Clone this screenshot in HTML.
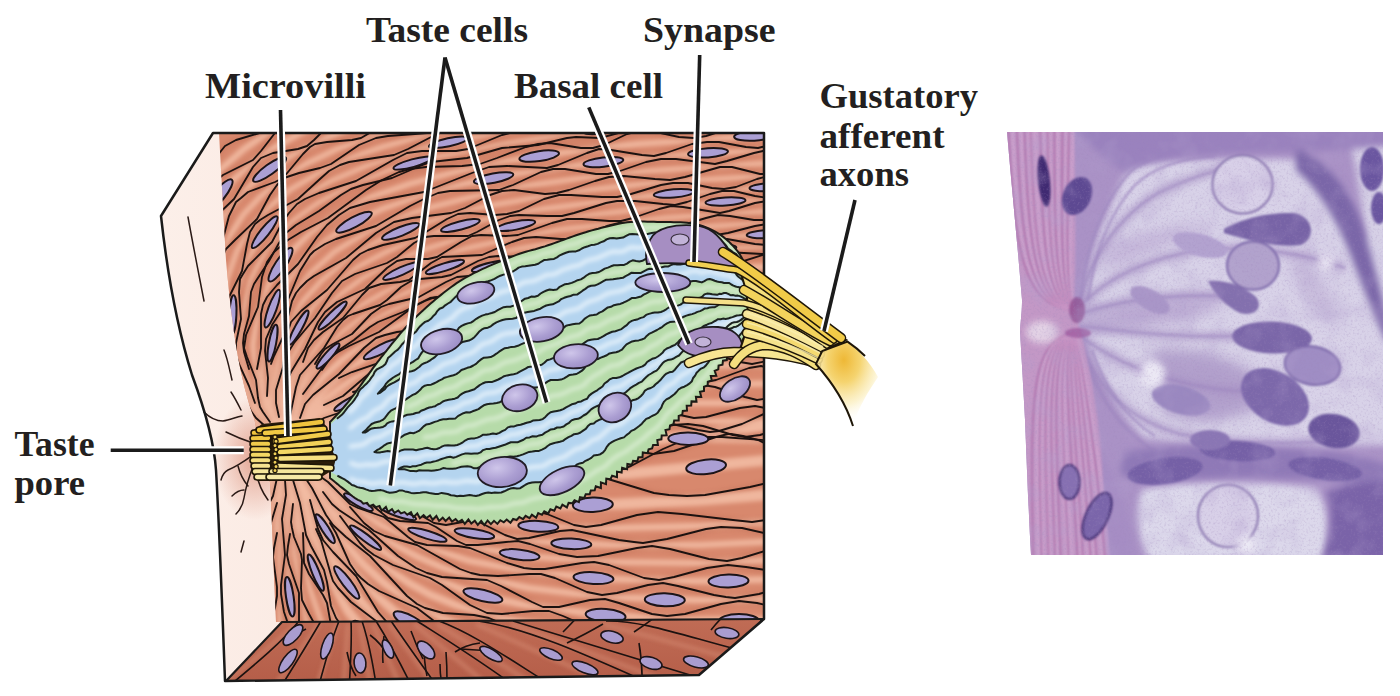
<!DOCTYPE html>
<html><head><meta charset="utf-8"><style>
html,body{margin:0;padding:0;background:#fff;overflow:hidden;}
svg{display:block;}
</style></head><body>
<svg width="1400" height="696" viewBox="0 0 1400 696">

<defs>
<linearGradient id="gleft" x1="0" y1="0" x2="1" y2="0">
 <stop offset="0" stop-color="#fcefe9"/><stop offset="0.6" stop-color="#f9e3da"/><stop offset="1" stop-color="#f0c7b8"/>
</linearGradient>
<linearGradient id="gbot" x1="0" y1="0" x2="0" y2="1">
 <stop offset="0" stop-color="#c06c55"/><stop offset="1" stop-color="#b55e49"/>
</linearGradient>
<radialGradient id="gpore" cx="0.5" cy="0.5" r="0.5">
 <stop offset="0" stop-color="#e3a593"/><stop offset="1" stop-color="#e3a593" stop-opacity="0"/>
</radialGradient>
<radialGradient id="gnuc" cx="0.4" cy="0.35" r="0.7">
 <stop offset="0" stop-color="#cfc6ea"/><stop offset="0.6" stop-color="#ab9ed2"/><stop offset="1" stop-color="#9a8cc4"/>
</radialGradient>
<radialGradient id="gcut" cx="0.45" cy="0.22" r="0.75">
 <stop offset="0" stop-color="#eeb836"/><stop offset="0.35" stop-color="#f5d470"/><stop offset="0.7" stop-color="#fbeebc" stop-opacity="0.7"/><stop offset="1" stop-color="#ffffff" stop-opacity="0"/>
</radialGradient>
<clipPath id="cfront"><path d="M219,133 L764,133 L764,619 L276,622 C274,580 272,520 270,482 L262,470 C258,440 256,425 254,418 C240,380 232,330 226,260 Z"/></clipPath>
<clipPath id="cbot"><path d="M282,622 L764,619 L699,675 L225,681 Z"/></clipPath>
<filter id="blur2" x="-20%" y="-20%" width="140%" height="140%"><feGaussianBlur stdDeviation="2"/></filter>
<filter id="blur1"><feGaussianBlur stdDeviation="1"/></filter>
<filter id="blur4" x="-30%" y="-30%" width="160%" height="160%"><feGaussianBlur stdDeviation="4"/></filter>
<clipPath id="cbud"><path d="M330.0,422.0 332.3,419.6 334.6,417.2 336.9,414.9 339.2,412.5 341.4,410.0 343.6,407.5 345.7,405.0 347.9,402.4 349.9,399.8 351.9,397.2 353.9,394.6 355.9,391.9 357.8,389.2 359.8,386.5 361.7,383.8 363.6,381.2 365.6,378.5 367.5,375.8 369.4,373.1 371.4,370.4 373.3,367.7 375.3,365.1 377.3,362.4 379.3,359.8 381.3,357.2 383.4,354.6 385.4,352.0 387.5,349.4 389.5,346.8 391.6,344.2 393.7,341.6 395.8,339.0 397.9,336.5 400.0,333.9 402.2,331.4 404.4,329.0 406.6,326.5 408.9,324.1 411.2,321.7 413.6,319.4 415.9,317.1 418.3,314.8 420.7,312.6 423.2,310.3 425.6,308.1 428.1,305.8 430.6,303.6 433.1,301.5 435.6,299.3 438.1,297.2 440.7,295.1 443.3,293.0 445.9,291.0 448.5,289.0 451.2,287.0 453.9,285.1 456.6,283.2 459.4,281.4 462.2,279.7 465.0,278.0 467.9,276.3 470.8,274.8 473.8,273.2 476.7,271.8 479.7,270.3 482.7,268.9 485.7,267.6 488.8,266.2 491.8,264.9 494.8,263.6 497.9,262.3 501.0,261.1 504.0,259.8 507.1,258.6 510.2,257.3 513.3,256.1 516.4,254.9 519.5,253.8 522.6,252.8 525.8,251.8 529.0,250.9 532.2,250.0 535.4,249.2 538.5,248.3 541.7,247.3 544.9,246.4 548.0,245.3 551.2,244.2 554.3,243.1 557.4,242.0 560.5,240.9 563.6,239.7 566.7,238.6 569.8,237.5 573.0,236.4 576.1,235.3 579.2,234.2 582.4,233.2 585.6,232.3 588.7,231.3 591.9,230.4 595.1,229.5 598.3,228.7 601.5,227.8 604.7,227.0 608.0,226.2 611.2,225.5 614.4,224.7 617.6,224.0 620.9,223.3 624.1,222.8 627.4,222.3 630.7,222.0 634.0,221.8 637.3,221.7 640.6,221.6 644.0,221.6 647.3,221.7 650.6,221.7 653.9,221.8 657.2,221.9 660.5,222.0 663.8,222.1 667.1,222.1 670.5,222.1 673.8,222.2 677.1,222.2 680.4,222.3 683.7,222.5 687.0,222.8 690.3,223.2 693.6,223.7 696.8,224.4 700.0,225.3 703.1,226.3 706.3,227.4 709.3,228.7 712.3,230.1 715.2,231.7 718.1,233.4 720.8,235.2 723.5,237.1 726.1,239.2 728.6,241.4 730.9,243.7 733.2,246.1 735.4,248.6 737.5,251.2 739.4,253.9 741.2,256.7 742.8,259.6 744.1,262.6 745.3,265.7 746.2,268.9 747.1,272.1 747.8,275.3 748.5,278.5 749.2,281.8 750.0,285.0 L750.0,322.0 748.8,325.0 747.8,328.0 746.7,331.1 745.5,334.1 744.2,337.0 742.9,340.0 741.4,342.8 739.6,345.5 737.6,348.0 735.4,350.4 733.0,352.6 731.5,355.7 727.1,355.6 726.8,360.1 723.0,360.7 722.5,364.6 718.6,365.6 718.3,369.4 714.7,370.8 716.3,375.7 710.8,376.0 711.7,380.4 707.8,381.7 707.7,385.5 704.0,386.8 704.0,391.0 700.0,391.8 701.2,397.0 695.9,396.7 696.5,401.6 691.5,401.4 691.2,405.5 686.7,405.8 687.0,410.5 682.8,410.9 682.2,414.8 678.7,415.9 678.7,420.4 674.2,420.5 673.4,424.2 670.0,425.4 669.5,429.2 665.5,430.1 666.7,435.3 661.7,435.4 661.4,439.3 657.3,440.1 657.9,444.9 653.1,444.9 652.1,448.4 648.6,449.4 647.5,453.2 642.8,452.5 642.5,457.3 638.4,457.2 637.4,461.2 633.1,460.9 631.9,464.8 627.4,464.0 627.1,469.1 622.1,467.7 621.6,472.5 617.0,471.6 617.0,477.2 612.1,475.8 610.5,479.2 606.3,478.7 606.0,484.1 600.9,482.3 600.9,488.0 595.8,486.3 594.7,490.2 590.8,490.4 589.7,494.3 585.7,494.2 584.2,498.0 580.0,497.1 578.9,502.1 574.5,500.2 572.3,503.3 568.6,502.9 566.9,507.4 562.4,504.6 560.4,508.5 556.3,506.6 554.3,510.7 550.4,509.2 548.3,513.3 544.3,511.3 542.0,514.8 538.2,513.1 536.1,517.8 531.9,514.6 529.5,518.2 525.6,515.8 523.0,519.2 519.3,517.0 516.6,520.0 513.1,518.9 510.5,522.8 506.7,519.6 503.8,522.3 500.3,520.2 497.4,523.9 494.0,520.8 490.9,524.1 487.6,520.5 484.3,525.1 481.2,520.8 477.8,524.9 474.8,520.8 471.3,523.6 468.4,519.5 464.8,523.9 461.9,519.8 458.4,522.1 455.6,519.0 452.0,521.5 449.2,517.6 445.6,521.0 442.7,517.7 439.1,520.9 436.4,516.0 432.7,519.8 430.0,515.5 426.4,518.0 423.6,515.2 419.9,518.2 417.3,513.4 413.4,517.2 411.0,512.2 407.3,514.7 404.5,512.1 401.0,513.4 398.3,510.5 394.5,512.8 392.0,509.2 388.0,511.9 385.9,507.0 381.7,510.7 379.5,505.9 375.9,507.2 373.2,504.6 369.4,506.1 367.1,502.8 363.3,503.7 360.8,501.1 357.9,499.8 355.1,498.1 352.5,496.3 350.0,494.2 347.6,492.1 345.1,490.1 342.5,488.1 340.0,486.2 337.5,484.1 335.0,482.1 332.5,480.0 330.0,478.0 Z"/></clipPath><clipPath id="cmic"><path d="M1007,132 L1383,132 L1383,555 L1031,555 C1029,520 1027,470 1025,420 C1023,380 1021,350 1020,330 C1021,318 1022,310 1022,300 C1018,250 1012,190 1007,132 Z"/></clipPath><filter id="mb8" x="-50%" y="-50%" width="200%" height="200%"><feGaussianBlur stdDeviation="7"/></filter><filter id="mb4" x="-50%" y="-50%" width="200%" height="200%"><feGaussianBlur stdDeviation="3.5"/></filter><filter id="mb2" x="-50%" y="-50%" width="200%" height="200%"><feGaussianBlur stdDeviation="1.3"/></filter><filter id="grain" x="0" y="0" width="100%" height="100%"><feTurbulence type="fractalNoise" baseFrequency="0.45" numOctaves="2" seed="3"/><feColorMatrix type="matrix" values="0 0 0 0 0.35  0 0 0 0 0.25  0 0 0 0 0.5  0 0 0 -1.8 0.9"/></filter><filter id="mottle" x="0" y="0" width="100%" height="100%"><feTurbulence type="fractalNoise" baseFrequency="0.04" numOctaves="3" seed="8"/><feColorMatrix type="matrix" values="0 0 0 0 0.45  0 0 0 0 0.35  0 0 0 0 0.62  0 0 0 -2.2 1.2"/></filter></defs>

<path d="M213,133 L764,133 L764,619 L699,675 L225,681 C222,600 219,520 216,470 C214,440 205,410 192,375 C178,330 168,280 161,216 Z" fill="url(#gleft)"/>
<ellipse cx="255" cy="458" rx="42" ry="62" fill="url(#gpore)"/>
<path d="M219,133 L764,133 L764,619 L276,622 C274,580 272,520 270,482 L262,470 C258,440 256,425 254,418 C240,380 232,330 226,260 Z" fill="#d8886d"/>
<g clip-path="url(#cfront)">
<g filter="url(#blur2)"><path d="M274,446 199,435 148,424" stroke="#f2bba3" stroke-width="4.2" fill="none" opacity="0.9"/><path d="M274,445 240,436 204,424 167,408 146,397" stroke="#f2bba3" stroke-width="4.5" fill="none" opacity="0.9"/><path d="M275,443 239,429 206,411 177,392 152,369" stroke="#f2bba3" stroke-width="4.7" fill="none" opacity="0.9"/><path d="M275,442 252,429 228,414 195,385 172,356 162,339 155,321" stroke="#f2bba3" stroke-width="5.7" fill="none" opacity="0.9"/><path d="M276,441 251,424 230,407 213,388 197,367 184,341 177,322 172,297 171,271 174,249 180,229 189,209 204,188 221,169 244,149 267,133 295,118" stroke="#f2bba3" stroke-width="6.5" fill="none" opacity="0.9"/><path d="M276,440 252,422 233,403 217,383 204,360 193,334 188,310 186,285 189,260 195,238 205,216 217,198 234,179 256,160 279,145 306,130 337,117" stroke="#f2bba3" stroke-width="6.2" fill="none" opacity="0.9"/><path d="M277,440 254,420 236,400 221,376 210,351 203,327 200,300 201,275 207,250 216,229 229,209 246,190 267,171 290,156 318,142 348,129 384,118" stroke="#f2bba3" stroke-width="5.8" fill="none" opacity="0.9"/><path d="M277,439 256,418 238,394 225,369 217,343 212,315 213,288 219,260 229,237 243,215 260,197 281,179 308,163 337,149 370,137 407,126 448,117" stroke="#f2bba3" stroke-width="5.4" fill="none" opacity="0.9"/><path d="M278,439 258,416 242,391 231,365 224,335 223,307 227,279 237,251 252,226 269,207 291,189 317,174 348,159 382,147 422,136 469,126 524,116" stroke="#f2bba3" stroke-width="5.1" fill="none" opacity="0.9"/><path d="M278,438 258,412 243,382 235,352 233,322 236,294 245,264 261,237 281,215 306,195 333,180 366,166 403,154 448,142 501,132 561,123 626,116" stroke="#f2bba3" stroke-width="4.7" fill="none" opacity="0.9"/><path d="M279,437 259,408 246,375 241,343 243,312 251,280 258,265 267,249 290,223 318,203 349,186 387,171 433,158 486,147 548,137 618,128 696,121 786,116" stroke="#f2bba3" stroke-width="4.5" fill="none" opacity="0.9"/><path d="M280,437 264,408 256,377 253,345 258,313 269,284 286,257 310,233 338,213 369,198 409,184 455,172 507,161 569,152 637,144 801,133" stroke="#f2bba3" stroke-width="5.8" fill="none" opacity="0.9"/><path d="M281,436 269,409 262,378 263,348 269,317 282,289 301,263 323,243 351,224 382,209 419,196 464,184 514,174 574,166 639,158 799,148" stroke="#f2bba3" stroke-width="5.5" fill="none" opacity="0.9"/><path d="M282,435 272,407 269,379 271,349 279,322 294,294 311,273 334,252 363,234 396,219 432,207 475,196 525,186 582,178 647,171 799,161" stroke="#f2bba3" stroke-width="5.2" fill="none" opacity="0.9"/><path d="M283,435 276,409 275,381 279,354 288,327 303,301 322,280 346,260 375,243 406,229 443,217 487,206 534,198 589,190 652,183 798,174" stroke="#f2bba3" stroke-width="4.9" fill="none" opacity="0.9"/><path d="M284,435 279,408 280,380 287,353 299,328 314,305 334,285 358,267 386,252 416,239 453,227 495,217 543,209 656,195 798,186" stroke="#f2bba3" stroke-width="4.8" fill="none" opacity="0.9"/><path d="M285,434 283,408 286,382 292,359 305,335 322,312 341,294 364,277 394,262 426,249 460,238 501,228 548,220 660,207 797,198" stroke="#f2bba3" stroke-width="4.7" fill="none" opacity="0.9"/><path d="M286,434 286,407 291,382 300,360 312,339 328,320 348,302 372,286 402,271 432,259 468,248 509,239 556,230 664,218 800,209" stroke="#f2bba3" stroke-width="4.7" fill="none" opacity="0.9"/><path d="M287,434 289,410 295,387 305,364 319,344 336,325 357,308 383,293 411,279 442,268 477,258 518,249 564,241 668,229 800,221" stroke="#f2bba3" stroke-width="4.6" fill="none" opacity="0.9"/><path d="M288,434 291,413 299,390 310,368 325,349 342,332 365,315 388,301 415,289 448,278 483,268 565,253 671,241 800,232" stroke="#f2bba3" stroke-width="4.5" fill="none" opacity="0.9"/><path d="M289,434 294,414 303,391 315,372 330,354 348,338 369,323 395,309 423,297 456,287 491,278 573,263 675,252 799,244" stroke="#f2bba3" stroke-width="4.4" fill="none" opacity="0.9"/><path d="M291,434 299,415 310,395 324,376 341,361 360,347 381,334 404,323 432,313 497,296 580,282 680,272 800,265" stroke="#f2bba3" stroke-width="7.1" fill="none" opacity="0.9"/><path d="M293,435 303,417 314,401 329,385 347,370 366,358 387,347 412,336 439,327 503,312 585,300 683,291 800,285" stroke="#f2bba3" stroke-width="6.9" fill="none" opacity="0.9"/><path d="M295,436 307,419 320,404 336,391 353,379 395,358 446,341 509,328 589,318 685,310 800,305" stroke="#f2bba3" stroke-width="6.8" fill="none" opacity="0.9"/><path d="M296,437 308,423 324,409 358,387 401,369 453,355 515,344 594,335 686,329 800,325" stroke="#f2bba3" stroke-width="6.7" fill="none" opacity="0.9"/><path d="M298,438 328,414 364,395 407,380 458,369 520,359 598,352 690,347 800,344" stroke="#f2bba3" stroke-width="6.6" fill="none" opacity="0.9"/><path d="M299,439 329,420 367,404 410,392 460,383 521,375 599,369 692,366 800,364" stroke="#f2bba3" stroke-width="6.5" fill="none" opacity="0.9"/><path d="M300,441 332,426 371,413 415,403 465,396 531,390 610,386 799,383" stroke="#f2bba3" stroke-width="6.4" fill="none" opacity="0.9"/><path d="M301,443 335,431 373,422 416,415 466,410 604,403 799,403" stroke="#f2bba3" stroke-width="6.4" fill="none" opacity="0.9"/><path d="M301,444 337,437 375,431 469,423 604,420 799,422" stroke="#f2bba3" stroke-width="6.3" fill="none" opacity="0.9"/><path d="M302,446 376,440 469,437 604,437 798,441" stroke="#f2bba3" stroke-width="6.3" fill="none" opacity="0.9"/><path d="M302,448 500,443 797,428" stroke="#f2bba3" stroke-width="2.9" fill="none" opacity="0.9"/><path d="M302,450 352,454 397,457 492,455 623,444 800,422" stroke="#f2bba3" stroke-width="10.7" fill="none" opacity="0.9"/><path d="M301,452 351,464 395,472 438,477 489,478 549,478 622,474 800,457" stroke="#f2bba3" stroke-width="10.8" fill="none" opacity="0.9"/><path d="M301,454 348,473 390,487 433,496 485,502 545,505 618,504 702,500 799,492" stroke="#f2bba3" stroke-width="11.1" fill="none" opacity="0.9"/><path d="M300,455 347,482 388,499 433,512 483,521 544,527 616,528 700,526 799,520" stroke="#f2bba3" stroke-width="6.4" fill="none" opacity="0.9"/><path d="M299,456 344,486 387,508 431,524 480,535 541,542 616,545 700,545 799,540" stroke="#f2bba3" stroke-width="6.0" fill="none" opacity="0.9"/><path d="M299,457 343,492 384,517 427,535 477,548 537,557 612,562 698,563 798,559" stroke="#f2bba3" stroke-width="6.2" fill="none" opacity="0.9"/><path d="M298,458 340,496 379,524 420,545 470,561 532,572 609,579 695,581 797,579" stroke="#f2bba3" stroke-width="6.4" fill="none" opacity="0.9"/><path d="M297,459 338,503 358,520 377,535 397,546 418,557 444,568 467,575 529,588 605,597 695,600 798,599" stroke="#f2bba3" stroke-width="6.7" fill="none" opacity="0.9"/><path d="M296,459 318,488 337,511 357,530 376,546 396,560 417,571 463,590 496,599 525,605 603,615 694,620 799,620" stroke="#f2bba3" stroke-width="7.1" fill="none" opacity="0.9"/><path d="M295,460 315,490 332,515 350,535 368,553 389,570 409,583 431,595 456,605 486,614 519,622 597,635 690,641 799,643" stroke="#f2bba3" stroke-width="7.5" fill="none" opacity="0.9"/><path d="M294,461 311,492 328,520 344,542 363,564 383,582 403,597 424,609 450,621 481,632 514,641 552,649 592,655 688,664 800,666" stroke="#f2bba3" stroke-width="8.1" fill="none" opacity="0.9"/><path d="M293,461 309,497 324,526 339,552 356,574 375,594 394,611 420,628 442,639 471,651 505,661 545,670 586,677 635,683 686,688 800,691" stroke="#f2bba3" stroke-width="8.9" fill="none" opacity="0.9"/><path d="M292,461 305,498 317,529 330,556 345,580 361,602 378,620 397,636 418,650 443,664 472,675 503,685 540,694 623,708 705,712" stroke="#f2bba3" stroke-width="10.0" fill="none" opacity="0.9"/><path d="M291,462 307,520 326,570 348,611 375,644 389,658 407,671 429,685 448,694 491,710 543,720" stroke="#f2bba3" stroke-width="9.4" fill="none" opacity="0.9"/><path d="M290,462 299,512 311,558 325,598 343,634 363,662 387,687 416,708 442,720" stroke="#f2bba3" stroke-width="6.1" fill="none" opacity="0.9"/><path d="M289,462 294,507 301,551 310,589 322,624 335,655 351,682 370,706 386,720" stroke="#f2bba3" stroke-width="4.9" fill="none" opacity="0.9"/><path d="M288,462 293,543 298,578 305,614 313,647 323,675 338,706 347,719" stroke="#f2bba3" stroke-width="4.5" fill="none" opacity="0.9"/><path d="M287,462 286,534 290,603 295,638 302,675 315,718" stroke="#f2bba3" stroke-width="4.3" fill="none" opacity="0.9"/><path d="M286,462 280,528 279,596 281,659 288,719" stroke="#f2bba3" stroke-width="4.2" fill="none" opacity="0.9"/><path d="M285,462 276,521 269,586 265,652 264,718" stroke="#f2bba3" stroke-width="4.2" fill="none" opacity="0.9"/><path d="M284,462 271,517 260,579 249,647 240,718" stroke="#f2bba3" stroke-width="4.2" fill="none" opacity="0.9"/><path d="M284,461 253,568 218,717" stroke="#f2bba3" stroke-width="4.2" fill="none" opacity="0.9"/><path d="M283,461 246,559 195,716" stroke="#f2bba3" stroke-width="4.3" fill="none" opacity="0.9"/><path d="M282,461 241,551 172,714" stroke="#f2bba3" stroke-width="4.3" fill="none" opacity="0.9"/><path d="M281,460 237,542 150,711" stroke="#f2bba3" stroke-width="4.4" fill="none" opacity="0.9"/><path d="M280,460 229,541 141,685" stroke="#f2bba3" stroke-width="4.3" fill="none" opacity="0.9"/><path d="M279,459 215,542 141,642" stroke="#f2bba3" stroke-width="5.6" fill="none" opacity="0.9"/><path d="M278,458 141,605" stroke="#f2bba3" stroke-width="4.9" fill="none" opacity="0.9"/><path d="M277,457 142,575" stroke="#f2bba3" stroke-width="4.4" fill="none" opacity="0.9"/><path d="M276,456 141,552" stroke="#f2bba3" stroke-width="4.0" fill="none" opacity="0.9"/><path d="M276,455 140,531" stroke="#f2bba3" stroke-width="3.8" fill="none" opacity="0.9"/><path d="M275,454 141,512" stroke="#f2bba3" stroke-width="3.5" fill="none" opacity="0.9"/><path d="M275,452 141,495" stroke="#f2bba3" stroke-width="3.4" fill="none" opacity="0.9"/><path d="M274,451 141,479" stroke="#f2bba3" stroke-width="3.3" fill="none" opacity="0.9"/><path d="M274,450 142,464" stroke="#f2bba3" stroke-width="3.2" fill="none" opacity="0.9"/></g>
<g filter="url(#blur2)" fill="none" stroke="#b8664d" stroke-width="4.5" opacity="0.35"><path d="M256,446 232,445 179,434 161,434 142,436"/><path d="M203,432 182,430 170,426 154,417 140,405"/><path d="M234,433 218,425 187,400 139,380"/><path d="M211,409 189,398 175,382 162,357 150,321"/><path d="M260,432 240,419 222,399 197,377 189,368 182,351 174,316 159,276 156,254 159,242 165,230 195,196 212,163 221,151 225,146 236,140 271,129 291,108"/><path d="M220,395 214,385 204,363 182,330 176,312 175,300 177,287 190,247 195,218 199,203 205,192 211,185 223,175 253,160 281,127 293,123 325,121 336,115"/><path d="M244,413 231,393 209,368 203,354 201,342 200,309 193,267 194,252 198,240 210,222 234,199 253,167 261,158 273,153 298,149 307,146 330,124 340,118 384,115"/><path d="M228,386 220,357 205,324 203,306 207,282 219,254 229,216 236,202 248,192 283,178 303,154 315,144 361,138 390,121 404,115 420,114 447,114"/><path d="M265,426 251,411 240,389 227,368 222,357 220,342 221,312 219,273 221,261 226,249 235,240 257,219 277,185 284,178 290,176 331,164 359,145 376,138 427,133 475,112 487,112 524,115"/><path d="M238,379 234,355 226,326 224,314 228,299 242,271 247,244 250,232 255,224 260,220 298,199 329,171 340,165 349,162 394,155 435,135 446,131 499,132 542,116 590,118 625,107"/><path d="M255,403 236,355 236,343 241,319 239,292 240,279 248,266 272,242 289,213 297,204 305,199 319,193 356,181 407,153 422,151 468,149 514,132 562,133 603,120 649,124 693,111 744,117 786,108"/><path d="M249,369 243,343 249,316 251,292 254,284 286,233 296,225 319,211 351,189 363,185 392,178 431,162 467,158 502,148 538,145 567,138 600,138 630,130 663,132 696,125 726,127 761,121 801,122"/><path d="M270,422 260,407 256,380 247,357 244,348 246,335 258,307 262,277 267,262 274,252 288,240 328,218 382,180 399,172 410,169 480,164 538,144 550,143 581,148 593,148 627,134 639,131 651,131 679,137 694,138 738,126 753,124 768,125 801,131"/><path d="M257,369 261,348 261,314 263,305 267,297 277,285 298,264 327,225 339,215 350,208 370,202 424,192 489,167 507,166 547,168 558,165 587,153 599,149 611,150 642,155 654,156 692,144 707,142 758,148 770,145 800,135"/><path d="M267,396 268,378 265,351 266,339 272,325 287,302 300,271 310,255 325,244 376,226 424,199 438,193 450,191 499,190 513,185 541,172 553,169 608,174 661,159 676,159 715,164 727,161 763,151 775,152 799,159"/><path d="M271,364 283,337 292,301 300,288 314,276 346,258 376,233 394,222 412,218 451,213 502,191 514,190 557,193 609,177 624,176 670,180 720,167 732,167 760,174 769,174 798,164"/><path d="M279,417 276,403 276,390 283,367 287,334 291,322 301,311 327,290 353,260 368,250 383,245 415,238 458,214 470,213 507,214 544,199 559,195 617,197 673,183 688,183 724,189 768,176 799,183"/><path d="M285,363 287,354 294,343 315,318 332,293 342,281 355,274 387,263 414,243 425,237 468,236 499,220 510,216 562,216 617,201 635,201 675,205 722,191 734,191 768,198 797,190"/><path d="M285,392 286,383 291,372 305,349 318,322 325,312 337,302 365,289 387,268 397,261 437,257 461,242 472,236 518,235 567,219 621,221 671,206 683,207 720,213 767,201 801,206"/><path d="M303,362 308,348 314,340 323,332 343,318 362,295 369,288 381,284 409,280 431,263 442,257 482,255 524,238 573,239 619,223 631,223 671,228 718,215 766,220 799,213"/><path d="M290,416 296,387 300,375 308,366 324,348 343,320 353,314 380,305 401,287 411,281 451,275 489,257 535,256 566,243 578,240 624,245 668,231 716,235 767,224 800,229"/><path d="M315,364 321,354 325,349 352,334 371,314 381,307 419,297 446,282 457,277 499,275 539,257 585,261 614,249 625,246 668,250 715,239 767,245 799,237"/><path d="M303,394 328,360 336,352 354,340 378,322 403,312 433,298 460,293 488,282 518,280 547,270 577,270 604,263 634,263 663,257 696,258 726,252 762,254 798,248"/><path d="M322,370 331,357 338,352 379,332 416,305 430,298 445,296 479,297 491,296 530,276 545,271 597,277 611,273 640,260 652,257 667,259 698,267 713,269 769,253 799,248"/><path d="M300,418 305,404 313,395 339,374 364,348 376,338 397,332 439,327 453,320 483,303 497,298 512,297 555,301 570,296 607,281 623,282 650,290 666,292 680,287 709,275 730,270 800,279"/><path d="M339,378 352,372 387,360 425,336 442,328 460,326 509,325 564,305 579,305 610,312 622,314 636,310 666,296 680,293 695,294 735,301 756,303 777,301 801,296"/><path d="M324,405 343,396 371,372 386,362 404,358 452,353 512,330 530,329 576,336 591,332 623,318 638,314 689,323 707,325 728,321 779,308 788,307 800,309"/><path d="M353,392 397,381 439,362 456,357 477,355 520,358 535,355 566,342 584,337 599,337 642,345 660,346 737,329 755,331 801,344"/><path d="M312,427 324,418 356,407 388,390 402,384 420,381 462,381 477,377 508,364 523,360 538,360 578,366 602,367 670,352 688,350 706,352 752,364 767,361 799,347"/><path d="M364,407 379,404 412,402 452,386 464,383 479,383 515,388 534,388 593,375 620,371 647,373 689,382 701,383 716,380 749,368 761,366 773,369 800,378"/><path d="M339,425 372,421 415,404 470,408 517,396 541,392 574,394 631,402 652,399 688,388 703,385 715,387 745,397 757,400 769,398 799,388"/><path d="M371,423 383,421 422,425 460,414 478,411 545,418 560,419 578,416 616,406 634,404 649,406 680,415 694,418 706,417 740,408 755,406 770,409 799,419"/><path d="M320,444 346,435 382,438 427,428 442,428 478,434 493,434 556,421 574,424 610,434 625,436 640,434 673,425 688,424 703,426 745,437 760,435 799,423"/><path d="M374,442 407,445 440,442 467,444 518,443 551,448 593,441 608,443 638,451 653,454 674,451 716,437 731,434 743,436 758,440 800,460"/><path d="M344,449 359,446 368,446 407,455 419,455 434,451 466,438 481,434 496,436 533,446 552,447 569,442 615,421 630,418 651,419 698,430 719,431 742,424 799,398"/><path d="M372,466 418,457 433,461 463,473 478,476 490,474 525,460 540,456 555,458 595,470 610,472 631,466 677,443 700,437 722,437 801,443"/><path d="M318,460 335,466 368,468 413,491 428,490 459,483 471,482 486,486 515,498 527,501 543,498 578,481 593,476 608,479 654,493 687,496 705,495 750,487 800,474"/><path d="M365,485 380,488 413,505 425,507 452,506 490,521 502,520 536,511 547,514 574,525 586,527 601,525 637,515 658,512 682,514 752,522 772,519 799,510"/><path d="M336,477 366,497 377,501 401,506 434,523 446,525 477,521 505,535 517,539 529,538 560,531 572,530 619,540 643,543 667,539 721,527 742,528 782,537 800,538"/><path d="M359,496 388,518 400,521 428,523 466,545 478,545 518,541 577,557 598,556 652,546 670,549 709,559 727,561 778,547 799,543"/><path d="M311,470 328,482 350,504 384,517 415,542 427,545 470,548 507,563 524,568 545,569 594,562 609,565 644,578 659,580 674,577 707,568 728,565 798,575"/><path d="M350,507 364,523 374,531 417,545 460,569 480,575 498,576 541,574 555,578 587,592 602,595 617,593 648,585 663,583 714,595 735,598 759,594 797,583"/><path d="M323,492 332,504 339,510 369,530 398,556 416,568 427,573 442,577 487,580 501,586 532,602 543,607 559,607 590,600 605,599 619,603 652,614 667,616 685,614 721,604 739,601 757,603 799,613"/><path d="M340,516 360,543 374,555 393,565 430,578 470,605 487,613 502,614 549,611 563,616 595,630 606,633 622,631 655,622 670,620 685,623 724,637 745,641 763,639 799,629"/><path d="M304,476 326,515 333,525 346,537 370,556 407,596 425,608 443,613 489,618 530,639 544,645 563,645 606,636 621,640 655,656 673,661 688,659 731,649 752,646 773,649 800,658"/><path d="M330,523 350,564 361,578 379,591 417,608 459,640 475,649 493,651 531,647 543,648 557,654 590,673 608,678 623,677 663,668 681,667 699,671 732,684 747,688 765,685 801,669"/><path d="M310,500 318,529 323,540 356,576 378,612 392,628 403,635 417,641 466,649 478,656 512,682 528,690 547,691 600,684 609,684 620,687 638,693 652,701 692,738 701,741 710,741 723,737 738,726 782,678 800,661"/><path d="M316,529 321,540 331,575 338,588 351,602 380,624 413,668 430,683 444,689 466,692 504,692 545,686 568,689 579,692 590,699 601,709 611,723"/><path d="M293,480 300,503 306,535 324,570 331,606 336,618 351,634 389,659 420,695 468,740"/><path d="M303,533 304,563 309,574 327,603 334,642 342,663 356,679 376,694 395,704 416,710"/><path d="M293,504 292,528 302,560 301,588 302,600 309,614 331,653 356,726"/><path d="M290,534 287,555 299,593 299,639 301,654 306,668 313,682 339,713"/><path d="M285,480 286,495 282,519 285,555 281,594 284,612 295,644 295,653 295,668 289,703 290,721"/><path d="M277,533 273,557 277,596 267,632 266,644 268,659 282,698 284,707 283,719"/><path d="M277,503 271,523 271,557 258,591 258,603 264,640 247,693 246,705 248,720"/><path d="M267,531 257,554 256,593 238,636 237,651 240,694 232,720"/><path d="M277,478 273,496 259,523 255,556 237,591 232,640 226,654 204,691 200,718"/><path d="M256,528 241,554 231,598 205,637 202,652 199,698 196,707 189,721"/><path d="M263,498 247,524 235,561 211,593 207,604 203,632 199,647 191,660 164,693 153,715"/><path d="M246,523 220,556 209,592 204,603 166,647 161,661 155,682 151,710"/><path d="M269,474 151,651 142,667"/><path d="M239,518 225,546 187,585 179,597 169,620 161,658 154,671"/><path d="M252,491 241,505 214,529 206,538 176,591 159,604 133,614"/><path d="M225,507 209,529 203,535 158,562 151,572 143,590"/><path d="M262,467 236,491 198,512 190,521 168,551 157,557 142,562"/><path d="M216,496 210,502 202,506 164,519 155,527 140,543"/><path d="M239,475 209,483 173,510 140,519"/><path d="M208,480 175,486 162,493 142,508"/><path d="M257,457 246,460 219,464 180,481 165,483 140,483"/><path d="M203,461 179,461 141,475"/><path d="M232,451 142,457"/></g>
<g fill="none" stroke="#1c1210" stroke-width="1.85" stroke-linejoin="round" stroke-linecap="round">
<path d="M256,446 241,446 232,445 191,435 179,434 161,434 142,436"/>
<path d="M203,432 182,430 170,426 154,417 140,405"/>
<path d="M234,433 218,425 187,400 174,393 139,380"/>
<path d="M211,409 200,404 189,398 183,391 175,382 169,371 162,357 150,321"/>
<path d="M260,432 247,425 240,419 222,399 197,377 189,368 182,351 174,316 159,276 156,264 156,254 159,242 165,230 173,220 195,196 212,163 221,151 225,146 236,140 263,132 271,129 278,123 291,108"/>
<path d="M220,395 214,385 204,363 182,330 177,318 176,312 175,300 177,287 190,247 195,218 199,203 205,192 211,185 223,175 253,160 261,151 275,133 281,127 287,124 293,123 316,122 325,121 328,120 336,115"/>
<path d="M244,413 231,393 209,368 206,363 203,354 201,342 200,309 194,282 193,267 194,252 198,240 202,232 210,222 234,199 253,167 261,158 273,153 298,149 307,146 314,140 330,124 340,118 349,116 372,116 384,115"/>
<path d="M228,386 220,357 205,324 203,315 203,306 204,294 207,282 219,254 229,216 236,202 241,198 248,192 275,182 283,178 303,154 310,147 315,144 327,142 352,140 361,138 390,121 404,115 420,114 447,114"/>
<path d="M265,426 256,418 251,411 240,389 227,368 222,357 220,342 221,312 219,273 221,261 226,249 235,240 257,219 270,195 277,185 284,178 290,176 299,173 320,168 331,164 359,145 376,138 388,136 415,134 427,133 441,128 464,116 475,112 487,112 512,115 524,115"/>
<path d="M238,379 234,355 226,326 224,314 228,299 242,271 247,244 250,232 255,224 260,220 268,215 298,199 320,179 329,171 340,165 349,162 394,155 408,149 435,135 446,131 459,130 487,133 499,132 510,128 530,119 542,116 554,115 578,118 590,118 602,115 625,107"/>
<path d="M255,403 249,386 239,364 236,355 236,343 241,319 239,292 240,279 243,274 248,266 272,242 282,223 289,213 297,204 305,199 319,193 356,181 393,160 407,153 422,151 456,151 468,149 502,135 514,132 523,131 550,133 562,133 603,120 615,120 640,124 649,124 660,121 681,113 693,111 705,112 732,116 744,117 756,115 786,108"/>
<path d="M249,369 244,352 243,343 244,334 249,316 251,292 254,284 269,261 279,243 286,233 296,225 319,211 341,195 351,189 363,185 392,178 420,166 431,162 467,158 502,148 538,145 567,138 576,137 600,138 630,130 663,132 687,126 696,125 726,127 761,121 801,122"/>
<path d="M270,422 263,412 260,407 258,398 256,380 247,357 244,348 246,335 258,307 262,277 267,262 274,252 288,240 301,232 328,218 366,190 382,180 399,172 410,169 426,167 462,166 480,164 497,158 526,147 538,144 550,143 581,148 593,148 604,145 627,134 639,131 651,131 679,137 694,138 706,136 738,126 753,124 768,125 801,131"/>
<path d="M257,369 261,348 261,314 263,305 267,297 277,285 298,264 317,237 327,225 339,215 350,208 370,202 424,192 472,173 489,167 507,166 547,168 558,165 587,153 599,149 611,150 642,155 654,156 666,153 692,144 707,142 719,142 746,147 758,148 770,145 800,135"/>
<path d="M267,396 268,378 265,351 266,339 272,325 287,302 300,271 310,255 314,251 325,244 336,239 376,226 410,206 424,199 438,193 450,191 499,190 513,185 541,172 553,169 565,169 596,174 608,174 620,171 646,162 661,159 676,159 715,164 727,161 754,153 763,151 775,152 799,159"/>
<path d="M271,364 274,356 283,337 292,301 296,293 300,288 307,281 314,276 346,258 376,233 394,222 412,218 451,213 465,208 490,195 502,191 514,190 545,194 557,193 569,190 595,181 609,177 624,176 655,179 670,180 685,177 720,167 732,167 760,174 769,174 777,172 798,164"/>
<path d="M279,417 276,403 276,390 283,367 287,334 291,322 301,311 327,290 353,260 360,254 368,250 383,245 415,238 426,232 447,219 458,214 470,213 495,215 507,214 519,211 544,199 559,195 571,195 602,197 617,197 631,194 661,185 673,183 688,183 712,188 724,189 736,187 757,179 768,176 777,177 799,183"/>
<path d="M285,363 287,354 294,343 315,318 332,293 342,281 355,274 387,263 397,257 414,243 425,237 434,236 459,236 468,236 477,232 499,220 510,216 519,215 547,216 562,216 574,213 606,203 617,201 635,201 663,204 675,205 687,202 710,194 722,191 734,191 755,196 768,198 776,196 797,190"/>
<path d="M285,392 286,383 291,372 305,349 318,322 325,312 337,302 365,289 387,268 397,261 406,259 428,259 437,257 461,242 472,236 481,235 506,236 518,235 552,223 567,219 582,219 609,221 621,221 633,218 659,209 671,206 683,207 708,211 720,213 729,211 755,203 767,201 779,202 801,206"/>
<path d="M303,362 308,348 314,340 323,332 343,318 362,295 369,288 381,284 400,282 409,280 431,263 442,257 482,255 512,242 524,238 536,237 561,239 573,239 584,235 607,226 619,223 631,223 659,228 671,228 683,225 706,218 718,215 730,216 754,220 766,220 778,218 799,213"/>
<path d="M290,416 296,387 300,375 308,366 324,348 337,327 343,320 348,316 353,314 380,305 387,300 401,287 411,281 420,279 442,277 451,275 478,261 489,257 498,256 526,257 535,256 546,252 566,243 578,240 590,240 615,244 624,245 636,241 656,233 668,231 677,231 704,235 716,235 728,233 755,226 767,224 779,225 800,229"/>
<path d="M315,364 321,354 325,349 333,344 352,334 371,314 381,307 389,304 419,297 446,282 457,277 469,276 490,276 499,275 511,270 530,260 539,257 548,257 573,261 585,261 614,249 625,246 668,250 680,248 703,241 715,239 727,239 755,244 767,245 779,243 799,237"/>
<path d="M303,394 328,360 336,352 354,340 370,327 378,322 403,312 425,301 433,298 460,293 488,282 497,281 518,280 547,270 577,270 604,263 634,263 663,257 696,258 726,252 762,254 798,248"/>
<path d="M322,370 331,357 338,352 349,346 379,332 416,305 430,298 445,296 479,297 491,296 502,291 530,276 545,271 557,272 585,276 597,277 611,273 640,260 652,257 667,259 698,267 713,269 728,266 769,253 784,250 799,248"/>
<path d="M300,418 305,404 313,395 339,374 364,348 376,338 385,335 397,332 439,327 453,320 483,303 497,298 512,297 540,300 555,301 570,296 596,285 607,281 623,282 650,290 666,292 680,287 709,275 718,272 730,270 745,271 800,279"/>
<path d="M339,378 352,372 387,360 425,336 442,328 460,326 494,326 509,325 523,321 552,309 564,305 579,305 610,312 622,314 636,310 666,296 680,293 695,294 735,301 756,303 777,301 801,296"/>
<path d="M324,405 343,396 371,372 386,362 404,358 452,353 469,347 500,334 512,330 530,329 564,335 576,336 591,332 623,318 638,314 653,316 689,323 707,325 728,321 779,308 788,307 800,309"/>
<path d="M353,392 397,381 439,362 456,357 477,355 520,358 535,355 566,342 584,337 599,337 642,345 660,346 678,343 722,331 737,329 755,331 789,341 801,344"/>
<path d="M312,427 319,421 324,418 356,407 388,390 402,384 420,381 462,381 477,377 508,364 523,360 538,360 578,366 602,367 623,363 670,352 688,350 706,352 740,362 752,364 767,361 799,347"/>
<path d="M364,407 379,404 412,402 423,399 452,386 464,383 479,383 515,388 534,388 593,375 620,371 647,373 689,382 701,383 716,380 749,368 761,366 773,369 800,378"/>
<path d="M339,425 372,421 383,417 403,407 415,404 427,404 455,408 470,408 517,396 541,392 556,392 574,394 631,402 652,399 688,388 703,385 715,387 745,397 757,400 769,398 799,388"/>
<path d="M371,423 376,421 383,421 410,425 422,425 460,414 478,411 499,413 545,418 560,419 578,416 616,406 634,404 649,406 680,415 694,418 706,417 740,408 755,406 770,409 799,419"/>
<path d="M320,444 346,435 355,435 382,438 391,437 415,430 427,428 442,428 478,434 493,434 508,432 541,424 556,421 574,424 610,434 625,436 640,434 673,425 688,424 703,426 733,435 745,437 760,435 787,426 799,423"/>
<path d="M374,442 407,445 440,442 467,444 497,444 518,443 551,448 560,447 581,442 593,441 608,443 638,451 653,454 674,451 716,437 728,434 731,434 743,436 758,440 800,460"/>
<path d="M344,449 359,446 368,446 380,448 407,455 413,456 419,455 434,451 466,438 481,434 496,436 533,446 552,447 569,442 615,421 624,419 630,418 651,419 698,430 710,432 719,431 742,424 779,407 799,398"/>
<path d="M372,466 385,465 406,459 418,457 433,461 463,473 478,476 490,474 525,460 540,456 555,458 595,470 610,472 619,470 631,466 663,449 677,443 689,439 700,437 722,437 801,443"/>
<path d="M318,460 326,464 335,466 362,467 368,468 379,473 401,486 413,491 419,491 428,490 459,483 471,482 486,486 515,498 527,501 543,498 578,481 593,476 608,479 654,493 669,495 687,496 705,495 750,487 776,481 800,474"/>
<path d="M365,485 380,488 404,502 413,505 425,507 452,506 461,508 481,517 490,521 502,520 526,513 536,511 547,514 574,525 586,527 601,525 637,515 658,512 682,514 733,520 752,522 772,519 799,510"/>
<path d="M336,477 344,481 366,497 377,501 401,506 410,509 434,523 446,525 468,521 477,521 485,525 505,535 517,539 529,538 560,531 572,530 619,540 634,542 643,543 667,539 706,529 721,527 742,528 782,537 800,538"/>
<path d="M359,496 367,501 388,518 400,521 428,523 436,527 457,541 466,545 478,545 506,542 518,541 530,544 559,554 577,557 598,556 637,548 652,546 670,549 709,559 727,561 742,558 778,547 799,543"/>
<path d="M311,470 328,482 350,504 358,508 384,517 408,537 415,542 427,545 458,546 470,548 507,563 524,568 533,569 545,569 582,563 594,562 609,565 644,578 659,580 674,577 707,568 728,565 746,567 798,575"/>
<path d="M350,507 364,523 374,531 385,536 417,545 460,569 471,573 480,575 498,576 529,574 541,574 555,578 587,592 602,595 617,593 648,585 663,583 678,586 714,595 726,597 735,598 759,594 797,583"/>
<path d="M323,492 332,504 339,510 369,530 398,556 416,568 427,573 442,577 487,580 501,586 532,602 543,607 549,607 559,607 590,600 605,599 619,603 652,614 667,616 685,614 721,604 739,601 757,603 799,613"/>
<path d="M340,516 360,543 366,549 374,555 393,565 430,578 442,585 470,605 487,613 502,614 533,611 549,611 563,616 595,630 606,633 622,631 655,622 670,620 685,623 724,637 745,641 763,639 799,629"/>
<path d="M304,476 312,488 326,515 333,525 346,537 370,556 407,596 417,604 425,608 443,613 474,615 489,618 503,624 530,639 544,645 553,645 563,645 594,637 606,636 621,640 655,656 673,661 688,659 731,649 752,646 773,649 800,658"/>
<path d="M330,523 336,533 350,564 357,574 361,578 368,584 379,591 417,608 459,640 475,649 484,651 493,651 531,647 543,648 557,654 590,673 599,677 608,678 623,677 663,668 681,667 699,671 732,684 747,688 756,687 765,685 801,669"/>
<path d="M310,500 318,529 323,540 333,552 356,576 378,612 392,628 403,635 417,641 429,643 457,647 466,649 478,656 512,682 528,690 534,691 547,691 584,685 600,684 609,684 620,687 638,693 652,701 663,711 692,738 701,741 710,741 723,737 729,734 738,726 751,713 782,678 800,661"/>
<path d="M316,529 321,540 331,575 333,581 338,588 351,602 380,624 390,635 413,668 422,677 430,683 435,687 444,689 466,692 504,692 545,686 568,689 579,692 590,699 601,709 611,723"/>
<path d="M293,480 300,503 306,535 311,546 324,570 327,582 331,606 336,618 341,625 351,634 389,659 420,695 468,740"/>
<path d="M303,533 304,563 309,574 323,595 327,603 334,642 338,654 342,663 347,670 356,679 376,694 395,704 403,707 416,710"/>
<path d="M293,504 291,522 292,528 294,537 301,554 302,560 301,588 302,600 309,614 331,653 356,726"/>
<path d="M290,534 288,546 287,555 289,564 299,593 299,605 299,639 301,654 306,668 313,682 324,697 339,713"/>
<path d="M285,480 286,495 282,519 285,555 281,585 281,594 284,612 295,644 295,653 295,668 289,703 290,721"/>
<path d="M277,533 274,548 273,557 277,587 277,596 275,608 267,632 266,644 268,659 279,686 282,698 284,707 283,719"/>
<path d="M277,503 271,523 271,551 271,557 258,591 258,603 263,628 264,640 261,652 250,681 247,693 246,705 248,720"/>
<path d="M267,531 257,554 256,563 257,584 256,593 252,605 242,624 238,636 237,651 240,679 240,694 237,706 232,720"/>
<path d="M277,478 273,496 259,523 255,556 237,591 235,603 234,628 232,640 226,654 210,680 204,691 201,703 200,718"/>
<path d="M256,528 241,554 238,566 234,590 231,598 226,606 212,626 205,637 202,652 201,683 199,698 196,707 189,721"/>
<path d="M263,498 247,524 238,556 235,561 211,593 207,604 203,632 199,647 191,660 164,693 156,706 153,715"/>
<path d="M246,523 239,533 225,549 220,556 215,568 209,592 204,603 197,612 176,635 166,647 161,661 155,682 152,694 151,710"/>
<path d="M269,474 151,651 142,667"/>
<path d="M239,518 231,535 225,546 215,557 187,585 179,597 173,608 169,620 161,658 157,666 154,671"/>
<path d="M252,491 247,499 241,505 214,529 206,538 198,551 181,584 176,591 169,598 159,604 147,610 133,614"/>
<path d="M225,507 209,529 203,535 190,544 165,557 158,562 151,572 143,590"/>
<path d="M262,467 236,491 225,498 206,507 198,512 190,521 176,541 168,551 157,557 142,562"/>
<path d="M216,496 210,502 202,506 175,515 164,519 155,527 140,543"/>
<path d="M239,475 209,483 199,490 180,505 173,510 158,515 140,519"/>
<path d="M208,480 184,484 175,486 162,493 142,508"/>
<path d="M257,457 246,460 219,464 208,469 188,478 180,481 165,483 140,483"/>
<path d="M203,461 188,460 179,461 164,465 141,475"/>
<path d="M232,451 142,457"/>
</g>
<g fill="#ab9fd4" stroke="#1c1418" stroke-width="2.0">
<ellipse cx="197.1" cy="366.6" rx="18.8" ry="3.6" transform="rotate(-124.4 197.1 366.6)"/>
<ellipse cx="172.9" cy="253.3" rx="20.0" ry="5.9" transform="rotate(-80.9 172.9 253.3)"/>
<ellipse cx="188.4" cy="313.2" rx="20.0" ry="4.3" transform="rotate(-101.6 188.4 313.2)"/>
<ellipse cx="219.2" cy="195.2" rx="20.0" ry="5.6" transform="rotate(-50.7 219.2 195.2)"/>
<ellipse cx="269.6" cy="169.4" rx="20.0" ry="5.1" transform="rotate(-35.8 269.6 169.4)"/>
<ellipse cx="407.2" cy="126.0" rx="20.0" ry="4.6" transform="rotate(-14.3 407.2 126.0)"/>
<ellipse cx="479.6" cy="123.6" rx="20.0" ry="4.3" transform="rotate(-10.3 479.6 123.6)"/>
<ellipse cx="232.8" cy="314.9" rx="19.6" ry="3.6" transform="rotate(-87.5 232.8 314.9)"/>
<ellipse cx="264.7" cy="232.2" rx="20.0" ry="4.4" transform="rotate(-51.6 264.7 232.2)"/>
<ellipse cx="448.5" cy="142.3" rx="20.0" ry="4.1" transform="rotate(-12.2 448.5 142.3)"/>
<ellipse cx="412.8" cy="163.1" rx="20.0" ry="3.9" transform="rotate(-15.4 412.8 163.1)"/>
<ellipse cx="603.2" cy="129.7" rx="20.0" ry="3.8" transform="rotate(-6.3 603.2 129.7)"/>
<ellipse cx="280.5" cy="264.7" rx="20.0" ry="5.2" transform="rotate(-55.9 280.5 264.7)"/>
<ellipse cx="539.2" cy="156.1" rx="20.0" ry="5.0" transform="rotate(-8.3 539.2 156.1)"/>
<ellipse cx="754.1" cy="135.7" rx="20.0" ry="5.0" transform="rotate(-3.3 754.1 135.7)"/>
<ellipse cx="272.4" cy="308.7" rx="20.0" ry="4.1" transform="rotate(-70.0 272.4 308.7)"/>
<ellipse cx="354.0" cy="222.2" rx="20.0" ry="5.1" transform="rotate(-28.2 354.0 222.2)"/>
<ellipse cx="493.6" cy="178.1" rx="20.0" ry="4.7" transform="rotate(-10.7 493.6 178.1)"/>
<ellipse cx="603.4" cy="162.1" rx="20.0" ry="4.6" transform="rotate(-6.3 603.4 162.1)"/>
<ellipse cx="708.0" cy="152.8" rx="20.0" ry="4.6" transform="rotate(-4.0 708.0 152.8)"/>
<ellipse cx="272.5" cy="343.2" rx="18.7" ry="3.6" transform="rotate(-79.1 272.5 343.2)"/>
<ellipse cx="400.7" cy="231.4" rx="20.0" ry="4.5" transform="rotate(-21.4 400.7 231.4)"/>
<ellipse cx="298.6" cy="327.6" rx="19.3" ry="3.6" transform="rotate(-61.2 298.6 327.6)"/>
<ellipse cx="460.4" cy="225.5" rx="20.0" ry="4.2" transform="rotate(-14.6 460.4 225.5)"/>
<ellipse cx="673.7" cy="193.4" rx="20.0" ry="4.1" transform="rotate(-4.7 673.7 193.4)"/>
<ellipse cx="769.5" cy="187.1" rx="20.0" ry="4.1" transform="rotate(-3.0 769.5 187.1)"/>
<ellipse cx="515.5" cy="225.6" rx="20.0" ry="4.1" transform="rotate(-10.8 515.5 225.6)"/>
<ellipse cx="725.5" cy="201.5" rx="20.0" ry="4.0" transform="rotate(-3.7 725.5 201.5)"/>
<ellipse cx="332.6" cy="315.6" rx="19.5" ry="3.6" transform="rotate(-44.9 332.6 315.6)"/>
<ellipse cx="401.5" cy="271.0" rx="20.0" ry="3.9" transform="rotate(-24.1 401.5 271.0)"/>
<ellipse cx="444.9" cy="267.0" rx="20.0" ry="3.8" transform="rotate(-17.6 444.9 267.0)"/>
<ellipse cx="491.4" cy="266.2" rx="20.0" ry="3.8" transform="rotate(-13.0 491.4 266.2)"/>
<ellipse cx="580.0" cy="250.4" rx="20.0" ry="3.9" transform="rotate(-7.9 580.0 250.4)"/>
<ellipse cx="670.9" cy="240.6" rx="20.0" ry="4.0" transform="rotate(-4.9 670.9 240.6)"/>
<ellipse cx="766.7" cy="234.1" rx="20.0" ry="4.0" transform="rotate(-3.0 766.7 234.1)"/>
<ellipse cx="328.0" cy="356.0" rx="16.6" ry="3.6" transform="rotate(-48.2 328.0 356.0)"/>
<ellipse cx="543.5" cy="267.4" rx="20.0" ry="3.8" transform="rotate(-9.5 543.5 267.4)"/>
<ellipse cx="716.4" cy="248.8" rx="20.0" ry="4.0" transform="rotate(-3.9 716.4 248.8)"/>
<ellipse cx="652.9" cy="274.2" rx="20.0" ry="6.5" transform="rotate(-5.2 652.9 274.2)"/>
<ellipse cx="381.6" cy="349.2" rx="20.0" ry="4.5" transform="rotate(-27.6 381.6 349.2)"/>
<ellipse cx="608.6" cy="297.3" rx="20.0" ry="6.3" transform="rotate(-6.1 608.6 297.3)"/>
<ellipse cx="734.3" cy="287.9" rx="20.0" ry="6.6" transform="rotate(-3.2 734.3 287.9)"/>
<ellipse cx="568.4" cy="319.8" rx="20.0" ry="6.0" transform="rotate(-7.0 568.4 319.8)"/>
<ellipse cx="685.0" cy="309.9" rx="20.0" ry="6.5" transform="rotate(-3.7 685.0 309.9)"/>
<ellipse cx="517.5" cy="343.4" rx="20.0" ry="5.6" transform="rotate(-8.6 517.5 343.4)"/>
<ellipse cx="638.4" cy="331.5" rx="20.0" ry="6.2" transform="rotate(-4.2 638.4 331.5)"/>
<ellipse cx="350.5" cy="401.5" rx="18.3" ry="3.6" transform="rotate(-28.5 350.5 401.5)"/>
<ellipse cx="457.7" cy="368.6" rx="20.0" ry="4.9" transform="rotate(-11.4 457.7 368.6)"/>
<ellipse cx="588.7" cy="352.8" rx="20.0" ry="5.9" transform="rotate(-4.7 588.7 352.8)"/>
<ellipse cx="738.5" cy="345.7" rx="20.0" ry="6.5" transform="rotate(-1.9 738.5 345.7)"/>
<ellipse cx="404.0" cy="393.4" rx="20.0" ry="4.0" transform="rotate(-15.2 404.0 393.4)"/>
<ellipse cx="526.9" cy="374.6" rx="20.0" ry="5.4" transform="rotate(-5.8 526.9 374.6)"/>
<ellipse cx="544.2" cy="405.2" rx="20.0" ry="5.4" transform="rotate(-2.9 544.2 405.2)"/>
<ellipse cx="478.2" cy="422.8" rx="20.0" ry="4.8" transform="rotate(-3.2 478.2 422.8)"/>
<ellipse cx="634.2" cy="420.4" rx="20.0" ry="5.9" transform="rotate(-0.4 634.2 420.4)"/>
<ellipse cx="559.4" cy="436.8" rx="20.0" ry="5.5" transform="rotate(-0.2 559.4 436.8)"/>
<ellipse cx="688.3" cy="438.7" rx="20.0" ry="6.2" transform="rotate(0.7 688.3 438.7)"/>
<ellipse cx="361.4" cy="455.1" rx="20.0" ry="3.7" transform="rotate(0.0 361.4 455.1)"/>
<ellipse cx="482.7" cy="455.5" rx="20.0" ry="7.2" transform="rotate(-4.8 482.7 455.5)"/>
<ellipse cx="418.8" cy="474.8" rx="20.0" ry="6.2" transform="rotate(2.8 418.8 474.8)"/>
<ellipse cx="540.1" cy="477.9" rx="20.0" ry="7.2" transform="rotate(-3.2 540.1 477.9)"/>
<ellipse cx="706.1" cy="466.8" rx="20.0" ry="7.2" transform="rotate(-6.2 706.1 466.8)"/>
<ellipse cx="468.5" cy="500.7" rx="20.0" ry="7.2" transform="rotate(3.7 468.5 500.7)"/>
<ellipse cx="592.8" cy="504.8" rx="20.0" ry="7.2" transform="rotate(-2.1 592.8 504.8)"/>
<ellipse cx="538.3" cy="526.3" rx="20.0" ry="5.4" transform="rotate(2.6 538.3 526.3)"/>
<ellipse cx="397.8" cy="512.8" rx="19.3" ry="3.6" transform="rotate(19.5 397.8 512.8)"/>
<ellipse cx="474.4" cy="533.6" rx="20.0" ry="4.5" transform="rotate(9.0 474.4 533.6)"/>
<ellipse cx="571.3" cy="543.8" rx="20.0" ry="5.3" transform="rotate(2.3 571.3 543.8)"/>
<ellipse cx="358.4" cy="502.2" rx="16.4" ry="3.6" transform="rotate(29.9 358.4 502.2)"/>
<ellipse cx="427.4" cy="534.8" rx="20.0" ry="4.0" transform="rotate(17.0 427.4 534.8)"/>
<ellipse cx="519.6" cy="554.7" rx="20.0" ry="5.1" transform="rotate(6.6 519.6 554.7)"/>
<ellipse cx="593.5" cy="578.1" rx="20.0" ry="5.9" transform="rotate(3.4 593.5 578.1)"/>
<ellipse cx="728.5" cy="581.0" rx="20.0" ry="6.5" transform="rotate(-1.2 728.5 581.0)"/>
<ellipse cx="664.8" cy="599.8" rx="20.0" ry="6.5" transform="rotate(1.4 664.8 599.8)"/>
<ellipse cx="365.6" cy="537.7" rx="19.4" ry="3.6" transform="rotate(37.6 365.6 537.7)"/>
<ellipse cx="482.9" cy="595.5" rx="20.0" ry="5.7" transform="rotate(13.9 482.9 595.5)"/>
<ellipse cx="605.6" cy="615.5" rx="20.0" ry="6.6" transform="rotate(4.6 605.6 615.5)"/>
<ellipse cx="738.9" cy="621.1" rx="20.0" ry="7.1" transform="rotate(-0.2 738.9 621.1)"/>
<ellipse cx="668.8" cy="640.4" rx="20.0" ry="7.2" transform="rotate(2.7 668.8 640.4)"/>
<ellipse cx="325.2" cy="528.7" rx="16.9" ry="3.6" transform="rotate(57.8 325.2 528.7)"/>
<ellipse cx="411.3" cy="622.7" rx="20.0" ry="6.3" transform="rotate(30.0 411.3 622.7)"/>
<ellipse cx="538.9" cy="669.1" rx="20.0" ry="7.2" transform="rotate(11.2 538.9 669.1)"/>
<ellipse cx="346.7" cy="582.5" rx="20.0" ry="4.4" transform="rotate(52.8 346.7 582.5)"/>
<ellipse cx="456.6" cy="669.6" rx="20.0" ry="7.2" transform="rotate(21.1 456.6 669.6)"/>
<ellipse cx="609.3" cy="706.3" rx="20.0" ry="7.2" transform="rotate(7.3 609.3 706.3)"/>
<ellipse cx="367.0" cy="635.7" rx="20.0" ry="6.7" transform="rotate(45.6 367.0 635.7)"/>
<ellipse cx="315.8" cy="572.6" rx="19.5" ry="3.6" transform="rotate(68.3 315.8 572.6)"/>
<ellipse cx="375.0" cy="675.7" rx="20.0" ry="7.2" transform="rotate(42.3 375.0 675.7)"/>
<ellipse cx="289.8" cy="596.7" rx="20.0" ry="3.8" transform="rotate(81.7 289.8 596.7)"/>
<ellipse cx="246.7" cy="591.0" rx="20.0" ry="3.6" transform="rotate(101.7 246.7 591.0)"/>
<ellipse cx="222.8" cy="693.2" rx="20.0" ry="6.8" transform="rotate(99.8 222.8 693.2)"/>
<ellipse cx="247.2" cy="556.5" rx="17.7" ry="3.6" transform="rotate(106.9 247.2 556.5)"/>
<ellipse cx="220.6" cy="636.1" rx="20.0" ry="5.0" transform="rotate(105.6 220.6 636.1)"/>
<ellipse cx="178.2" cy="699.9" rx="20.0" ry="7.0" transform="rotate(110.2 178.2 699.9)"/>
<ellipse cx="194.2" cy="596.8" rx="20.0" ry="4.2" transform="rotate(119.3 194.2 596.8)"/>
<ellipse cx="202.6" cy="495.7" rx="19.6" ry="3.6" transform="rotate(147.7 202.6 495.7)"/>
<ellipse cx="168.0" cy="500.2" rx="20.0" ry="4.5" transform="rotate(153.5 168.0 500.2)"/>
<ellipse cx="180.6" cy="470.9" rx="20.0" ry="3.7" transform="rotate(165.1 180.6 470.9)"/>
</g>
</g>
<path d="M282,622 L764,619 L699,675 L225,681 Z" fill="url(#gbot)"/>
<g clip-path="url(#cbot)">
<g filter="url(#blur2)" fill="none" stroke="#cf826a" stroke-width="4" opacity="0.8"><path d="M910,624 L1168,679"/><path d="M603,624 L856,692"/><path d="M511,624 L756,714"/><path d="M476,624 L714,731"/><path d="M437,624 L658,762"/><path d="M414,624 L614,790"/><path d="M389,624 L542,833"/><path d="M373,624 L476,861"/><path d="M360,624 L403,878"/><path d="M348,624 L330,880"/><path d="M337,624 L259,869"/><path d="M319,624 L171,833"/><path d="M297,624 L99,787"/></g>
<g fill="none" stroke="#1c1210" stroke-width="1.6"><path d="M913,621 C971,643 1051,646 1172,644"/><path d="M606,621 C667,620 740,663 861,670"/><path d="M513,621 C570,639 647,662 762,697"/><path d="M478,621 C539,630 611,667 721,715"/><path d="M439,621 C496,642 557,698 666,748"/><path d="M417,621 C467,653 536,694 624,778"/><path d="M391,621 C425,670 470,737 553,824"/><path d="M376,621 C408,672 440,745 488,855"/><path d="M362,621 C381,678 380,760 417,875"/><path d="M351,621 C354,681 338,761 343,881"/><path d="M339,621 C317,677 304,757 272,872"/><path d="M321,621 C291,673 247,740 183,841"/><path d="M299,621 C261,668 190,708 109,798"/><path d="M455,652 Q465,645 480,643"/><path d="M711,630 Q722,616 739,602"/><path d="M440,664 Q440,675 442,685"/><path d="M370,635 Q381,643 388,656"/><path d="M384,636 Q382,651 383,663"/><path d="M411,631 Q416,645 423,659"/><path d="M567,643 Q584,635 603,624"/><path d="M639,643 Q643,666 642,694"/><path d="M755,632 Q767,609 780,589"/><path d="M634,632 Q651,621 665,609"/><path d="M461,649 Q475,650 494,651"/><path d="M306,629 Q294,635 287,639"/><path d="M563,632 Q575,620 591,602"/><path d="M347,652 Q350,667 356,676"/><path d="M424,646 Q424,662 427,676"/><path d="M446,652 Q447,665 447,681"/></g>
<g fill="#a99cd0" stroke="#1c1418" stroke-width="1.6"><ellipse cx="360" cy="663" rx="10.0" ry="5.9" transform="rotate(85 360 663)"/><ellipse cx="696" cy="662" rx="12.8" ry="5.2" transform="rotate(15 696 662)"/><ellipse cx="612" cy="637" rx="11.4" ry="5.7" transform="rotate(14 612 637)"/><ellipse cx="426" cy="650" rx="10.9" ry="6.0" transform="rotate(46 426 650)"/><ellipse cx="288" cy="661" rx="14.0" ry="5.1" transform="rotate(126 288 661)"/><ellipse cx="491" cy="654" rx="12.7" ry="4.6" transform="rotate(31 491 654)"/><ellipse cx="551" cy="654" rx="12.1" ry="4.5" transform="rotate(23 551 654)"/><ellipse cx="327" cy="646" rx="13.6" ry="4.8" transform="rotate(109 327 646)"/><ellipse cx="293" cy="635" rx="13.1" ry="5.6" transform="rotate(133 293 635)"/><ellipse cx="585" cy="668" rx="13.8" ry="4.9" transform="rotate(22 585 668)"/><ellipse cx="651" cy="663" rx="11.4" ry="5.7" transform="rotate(17 651 663)"/><ellipse cx="388" cy="649" rx="9.9" ry="4.3" transform="rotate(65 388 649)"/><ellipse cx="727" cy="633" rx="12.0" ry="5.4" transform="rotate(9 727 633)"/></g>
</g>
<g fill="none" stroke="#2a1a16" stroke-width="1.5" stroke-linecap="round"><path d="M188,217 C193,245 199,275 204,301"/><path d="M204,412 C210,418 216,421 223,421 C230,420 236,417 242,416"/><path d="M231,392 C235,398 238,404 241,410"/><path d="M226,432 C234,436 244,440 253,443"/><path d="M253,455 C246,460 238,466 228,470 C224,472 222,476 221,480"/><path d="M238,466 C240,474 243,480 248,486"/><path d="M254,464 C250,474 246,486 244,498 C243,505 240,510 236,514"/><path d="M256,472 C258,482 262,492 268,500"/><path d="M232,496 C236,492 240,490 244,490"/><path d="M244,541 L241,552"/><path d="M224,350 C228,360 230,372 232,380"/></g>
<path d="M213,133 L764,133 L764,619 L699,675 L225,681 C222,600 219,520 216,470 C214,440 205,410 192,375 C178,330 168,280 161,216 Z" fill="none" stroke="#1a1a1a" stroke-width="2.5" stroke-linejoin="round"/>
<path d="M226,681 L282,622 L764,619" fill="none" stroke="#1a1a1a" stroke-width="2.2" stroke-linejoin="round"/>
<path d="M330.0,422.0 332.3,419.6 334.6,417.2 336.9,414.9 339.2,412.5 341.4,410.0 343.6,407.5 345.7,405.0 347.9,402.4 349.9,399.8 351.9,397.2 353.9,394.6 355.9,391.9 357.8,389.2 359.8,386.5 361.7,383.8 363.6,381.2 365.6,378.5 367.5,375.8 369.4,373.1 371.4,370.4 373.3,367.7 375.3,365.1 377.3,362.4 379.3,359.8 381.3,357.2 383.4,354.6 385.4,352.0 387.5,349.4 389.5,346.8 391.6,344.2 393.7,341.6 395.8,339.0 397.9,336.5 400.0,333.9 402.2,331.4 404.4,329.0 406.6,326.5 408.9,324.1 411.2,321.7 413.6,319.4 415.9,317.1 418.3,314.8 420.7,312.6 423.2,310.3 425.6,308.1 428.1,305.8 430.6,303.6 433.1,301.5 435.6,299.3 438.1,297.2 440.7,295.1 443.3,293.0 445.9,291.0 448.5,289.0 451.2,287.0 453.9,285.1 456.6,283.2 459.4,281.4 462.2,279.7 465.0,278.0 467.9,276.3 470.8,274.8 473.8,273.2 476.7,271.8 479.7,270.3 482.7,268.9 485.7,267.6 488.8,266.2 491.8,264.9 494.8,263.6 497.9,262.3 501.0,261.1 504.0,259.8 507.1,258.6 510.2,257.3 513.3,256.1 516.4,254.9 519.5,253.8 522.6,252.8 525.8,251.8 529.0,250.9 532.2,250.0 535.4,249.2 538.5,248.3 541.7,247.3 544.9,246.4 548.0,245.3 551.2,244.2 554.3,243.1 557.4,242.0 560.5,240.9 563.6,239.7 566.7,238.6 569.8,237.5 573.0,236.4 576.1,235.3 579.2,234.2 582.4,233.2 585.6,232.3 588.7,231.3 591.9,230.4 595.1,229.5 598.3,228.7 601.5,227.8 604.7,227.0 608.0,226.2 611.2,225.5 614.4,224.7 617.6,224.0 620.9,223.3 624.1,222.8 627.4,222.3 630.7,222.0 634.0,221.8 637.3,221.7 640.6,221.6 644.0,221.6 647.3,221.7 650.6,221.7 653.9,221.8 657.2,221.9 660.5,222.0 663.8,222.1 667.1,222.1 670.5,222.1 673.8,222.2 677.1,222.2 680.4,222.3 683.7,222.5 687.0,222.8 690.3,223.2 693.6,223.7 696.8,224.4 700.0,225.3 703.1,226.3 706.3,227.4 709.3,228.7 712.3,230.1 715.2,231.7 718.1,233.4 720.8,235.2 723.5,237.1 726.1,239.2 728.6,241.4 730.9,243.7 733.2,246.1 735.4,248.6 737.5,251.2 739.4,253.9 741.2,256.7 742.8,259.6 744.1,262.6 745.3,265.7 746.2,268.9 747.1,272.1 747.8,275.3 748.5,278.5 749.2,281.8 750.0,285.0 L750.0,322.0 748.8,325.0 747.8,328.0 746.7,331.1 745.5,334.1 744.2,337.0 742.9,340.0 741.4,342.8 739.6,345.5 737.6,348.0 735.4,350.4 733.0,352.6 731.5,355.7 727.1,355.6 726.8,360.1 723.0,360.7 722.5,364.6 718.6,365.6 718.3,369.4 714.7,370.8 716.3,375.7 710.8,376.0 711.7,380.4 707.8,381.7 707.7,385.5 704.0,386.8 704.0,391.0 700.0,391.8 701.2,397.0 695.9,396.7 696.5,401.6 691.5,401.4 691.2,405.5 686.7,405.8 687.0,410.5 682.8,410.9 682.2,414.8 678.7,415.9 678.7,420.4 674.2,420.5 673.4,424.2 670.0,425.4 669.5,429.2 665.5,430.1 666.7,435.3 661.7,435.4 661.4,439.3 657.3,440.1 657.9,444.9 653.1,444.9 652.1,448.4 648.6,449.4 647.5,453.2 642.8,452.5 642.5,457.3 638.4,457.2 637.4,461.2 633.1,460.9 631.9,464.8 627.4,464.0 627.1,469.1 622.1,467.7 621.6,472.5 617.0,471.6 617.0,477.2 612.1,475.8 610.5,479.2 606.3,478.7 606.0,484.1 600.9,482.3 600.9,488.0 595.8,486.3 594.7,490.2 590.8,490.4 589.7,494.3 585.7,494.2 584.2,498.0 580.0,497.1 578.9,502.1 574.5,500.2 572.3,503.3 568.6,502.9 566.9,507.4 562.4,504.6 560.4,508.5 556.3,506.6 554.3,510.7 550.4,509.2 548.3,513.3 544.3,511.3 542.0,514.8 538.2,513.1 536.1,517.8 531.9,514.6 529.5,518.2 525.6,515.8 523.0,519.2 519.3,517.0 516.6,520.0 513.1,518.9 510.5,522.8 506.7,519.6 503.8,522.3 500.3,520.2 497.4,523.9 494.0,520.8 490.9,524.1 487.6,520.5 484.3,525.1 481.2,520.8 477.8,524.9 474.8,520.8 471.3,523.6 468.4,519.5 464.8,523.9 461.9,519.8 458.4,522.1 455.6,519.0 452.0,521.5 449.2,517.6 445.6,521.0 442.7,517.7 439.1,520.9 436.4,516.0 432.7,519.8 430.0,515.5 426.4,518.0 423.6,515.2 419.9,518.2 417.3,513.4 413.4,517.2 411.0,512.2 407.3,514.7 404.5,512.1 401.0,513.4 398.3,510.5 394.5,512.8 392.0,509.2 388.0,511.9 385.9,507.0 381.7,510.7 379.5,505.9 375.9,507.2 373.2,504.6 369.4,506.1 367.1,502.8 363.3,503.7 360.8,501.1 357.9,499.8 355.1,498.1 352.5,496.3 350.0,494.2 347.6,492.1 345.1,490.1 342.5,488.1 340.0,486.2 337.5,484.1 335.0,482.1 332.5,480.0 330.0,478.0 Z" fill="#b6dba9"/>
<g clip-path="url(#cbud)">
<path d="M330.0,425.2 332.2,423.0 334.5,420.8 336.9,418.7 339.4,416.8 341.8,414.8 343.9,412.5 345.8,409.9 347.7,407.4 349.8,405.1 352.0,402.9 354.0,400.4 355.7,397.7 357.5,395.1 358.6,391.9 360.4,389.3 362.8,387.2 365.1,384.9 367.5,382.7 369.6,380.3 371.3,377.6 373.3,375.1 374.6,372.0 376.7,369.5 379.8,367.9 382.8,366.3 385.3,364.2 386.8,361.3 388.0,358.0 390.4,355.9 392.8,353.7 395.2,351.5 397.9,349.6 400.0,347.2 401.9,344.5 404.2,342.3 406.2,339.7 408.6,337.5 411.2,335.5 413.7,333.5 416.2,331.4 418.1,328.7 420.2,326.2 422.5,324.0 425.1,321.9 428.3,320.7 430.9,318.8 433.0,316.3 435.5,314.1 437.3,311.1 439.6,308.7 442.8,307.5 445.2,305.3 448.0,303.5 450.8,301.8 453.1,299.4 455.5,296.9 458.0,294.7 460.7,292.8 464.3,292.3 467.7,291.7 470.5,289.8 472.8,287.0 475.5,285.1 478.5,283.6 481.7,282.5 485.1,282.0 488.3,281.2 491.5,280.1 494.5,278.8 497.4,277.2 500.4,275.7 503.5,274.6 506.8,273.8 509.8,272.5 513.0,271.5 515.8,269.7 518.6,267.6 521.8,266.6 525.2,266.3 528.5,265.8 531.8,265.3 535.1,264.8 538.3,263.8 541.1,261.8 544.0,260.1 547.3,259.7 550.7,259.2 554.0,258.9 557.0,257.4 559.8,255.3 562.8,254.0 565.9,252.8 569.0,251.8 572.5,251.6 575.9,251.4 579.0,250.3 581.9,248.5 584.9,247.2 588.0,246.2 591.1,245.1 594.4,244.7 597.7,243.9 600.6,242.4 603.7,241.3 606.6,239.4 609.8,238.3 613.1,237.9 616.6,238.5 619.9,237.9 623.1,237.6 626.1,235.9 629.1,234.3 632.4,234.1 635.7,234.3 638.9,234.6 642.2,234.7 645.4,234.6 648.6,233.8 651.8,233.0 655.1,232.6 658.3,233.2 661.6,233.3 664.9,234.1 668.1,233.0 671.3,232.1 674.5,231.5 677.8,230.5 681.1,230.3 684.4,230.5 687.7,230.4 691.0,230.6 694.4,230.4 697.7,230.7 700.8,232.1 703.8,233.8 706.5,235.9 709.3,237.4 712.2,238.7 715.1,239.9 718.3,240.6 721.5,241.4 724.0,243.5 726.2,245.8 728.0,248.6 730.6,250.3 733.1,252.3 736.0,253.9 737.9,256.4 739.6,259.0 741.2,261.8 742.9,264.3 744.3,267.0 745.6,269.8 746.5,272.6 747.2,275.6 747.8,278.5 748.4,281.4 749.1,284.3 750.0,287.1 L750.0,317.4 748.9,319.7 747.9,322.0 747.0,324.3 745.8,326.5 744.6,328.7 743.2,330.8 741.7,332.9 740.0,334.9 738.2,337.0 736.4,339.2 734.5,341.4 731.8,342.5 728.9,343.3 726.1,344.3 723.7,345.9 721.7,348.1 719.7,350.1 718.2,352.6 716.2,354.7 713.7,356.3 711.6,358.3 709.6,360.4 707.9,362.8 706.1,365.2 704.0,367.3 701.1,368.6 698.8,370.6 696.6,372.7 695.1,375.6 693.1,378.0 691.9,381.2 689.7,383.4 687.1,385.1 684.3,386.7 681.1,387.8 678.5,389.5 676.5,392.0 674.3,394.3 671.8,396.1 669.3,398.0 666.4,399.4 664.1,401.6 662.5,404.4 661.3,407.6 659.4,410.1 657.7,412.8 655.1,414.7 652.0,416.0 649.3,417.7 646.2,418.9 644.0,421.2 641.9,423.7 639.5,425.8 636.9,427.7 634.3,429.6 631.3,430.9 629.0,433.2 626.4,435.1 624.0,437.4 620.8,438.3 617.7,439.4 614.6,440.6 611.8,442.2 609.1,444.0 607.0,446.6 605.2,449.8 603.1,452.4 600.4,454.2 597.2,455.1 593.6,455.6 591.3,457.9 588.5,459.5 585.5,460.8 582.9,462.7 579.6,463.4 576.6,464.6 574.4,467.1 571.6,468.8 569.0,470.9 566.3,472.8 563.3,474.1 560.4,475.6 557.3,476.5 553.8,476.5 550.9,477.9 548.3,480.4 545.4,481.8 542.0,482.0 538.7,482.3 535.3,482.2 532.0,482.6 528.8,483.2 525.9,484.5 523.0,486.3 520.2,488.2 516.9,488.4 513.5,487.9 510.3,488.6 507.3,489.8 504.3,491.3 501.3,492.5 498.0,492.7 494.8,492.6 491.6,492.9 488.3,492.4 485.2,493.0 482.1,494.0 479.1,495.2 475.9,496.0 472.7,495.5 469.6,494.9 466.5,495.4 463.3,495.9 460.2,495.7 457.1,496.2 454.0,495.6 450.9,495.2 447.8,494.0 444.7,493.4 441.6,492.9 438.5,493.9 435.4,494.0 432.3,493.5 429.3,493.0 426.2,492.2 423.2,492.3 420.1,492.8 417.0,493.0 414.0,493.2 411.0,492.9 408.0,492.0 405.0,491.4 402.0,490.4 399.0,490.6 395.8,492.1 392.8,492.4 389.7,492.7 386.8,492.0 383.9,490.8 380.9,490.1 377.9,490.2 374.8,490.8 371.8,490.9 368.8,490.4 365.9,489.4 363.1,488.3 360.2,487.8 357.3,487.1 354.7,485.8 351.9,485.0 349.6,483.1 347.4,481.4 345.0,479.7 342.5,478.3 339.9,477.0 337.4,475.7 334.9,474.2 332.4,472.7 330.0,471.1 Z" fill="#b4d4ef"/>
<path d="M377.9,393.7 380.1,391.1 382.3,388.8 384.4,386.4 386.1,383.6 388.3,381.3 390.8,379.4 393.3,377.5 396.0,375.9 398.9,374.4 401.3,372.3 403.4,369.9 405.3,367.3 407.6,365.1 410.2,363.4 413.0,361.9 415.6,360.0 418.3,358.3 420.0,355.3 421.9,352.4 424.1,350.1 426.7,348.1 429.5,346.6 432.5,345.3 434.6,343.0 437.4,341.5 440.0,339.6 442.8,338.1 446.0,337.3 449.2,336.4 451.8,334.6 454.8,333.2 457.0,330.8 459.0,327.8 461.6,325.9 464.5,324.5 467.7,323.4 470.9,322.6 473.7,320.8 476.3,318.8 479.1,317.1 482.1,315.6 485.3,314.6 488.5,313.9 491.7,313.0 494.8,312.0 497.7,310.2 500.6,308.6 503.6,307.2 506.9,306.8 510.4,306.7 513.5,305.6 516.5,304.2 519.3,302.3 522.2,300.6 525.0,298.7 528.2,298.0 531.2,296.6 534.7,296.7 537.9,295.7 540.6,293.5 543.5,291.8 546.5,290.5 549.6,289.5 553.3,289.9 556.7,289.6 559.2,287.2 562.2,285.7 565.1,284.2 568.5,283.7 571.7,282.9 574.7,281.6 577.6,280.2 580.9,279.4 583.7,277.7 586.4,275.5 589.2,273.8 592.4,273.1 595.8,272.8 599.0,272.0 601.9,270.3 604.7,268.6 607.9,267.6 610.9,266.3 613.9,265.2 617.4,265.3 620.7,265.0 624.1,264.9 627.0,263.6 629.7,261.6 632.7,260.3 636.1,260.9 639.4,261.4 642.4,260.8 645.3,259.2 648.3,258.3 651.3,257.2 654.4,257.1 657.5,256.7 660.6,256.2 663.9,256.9 667.0,256.6 670.1,255.7 673.1,254.8 676.3,254.6 679.4,254.1 682.5,253.9 685.6,253.9 688.7,253.2 691.8,252.3 694.9,252.1 697.9,252.5 700.8,254.3 703.5,256.1 706.3,256.7 709.1,257.0 712.1,256.6 715.1,256.5 718.1,256.5 720.7,257.6 723.2,259.1 725.4,260.8 727.9,262.1 730.9,262.8 733.4,264.2 735.4,266.3 736.9,268.7 738.5,271.0 740.4,272.9 742.2,274.7 743.4,276.9 744.7,278.9 745.6,281.0 746.3,283.2 747.2,285.3 748.1,287.4 749.0,289.5 750.0,291.5 L750.0,293.5 749.2,291.7 748.3,289.9 747.4,288.1 746.6,286.4 745.6,284.6 744.8,282.7 743.5,281.0 741.9,279.4 740.0,278.0 738.1,276.5 736.4,274.5 734.9,272.0 733.0,269.9 730.9,268.1 728.0,267.6 725.2,267.2 722.7,266.4 720.1,265.7 717.5,265.2 715.0,264.0 712.4,263.2 709.6,262.9 706.8,263.1 703.9,263.8 701.1,262.9 698.2,261.3 695.2,260.6 692.1,261.0 689.1,261.8 686.3,263.8 683.2,263.9 680.2,264.5 677.0,264.4 673.8,264.1 670.8,265.1 668.0,266.6 664.8,266.5 661.8,267.3 658.7,267.7 655.7,268.3 652.7,269.0 649.5,268.8 646.6,269.8 643.8,271.3 641.0,272.9 637.8,273.0 634.6,272.9 631.3,272.8 628.5,274.7 625.6,276.1 622.9,277.8 619.6,278.3 616.3,278.7 613.1,279.2 609.7,279.6 606.3,279.7 603.4,281.2 600.5,282.8 597.6,284.3 594.6,285.6 591.1,285.7 588.1,286.8 585.4,288.9 582.6,290.7 579.9,292.7 577.1,294.6 573.6,294.7 570.6,296.0 567.3,296.8 564.2,297.8 561.2,299.1 558.7,301.4 555.7,302.8 552.8,304.3 549.5,304.8 546.2,305.5 543.3,306.9 540.4,308.7 537.3,309.7 534.2,310.9 530.9,311.4 527.7,312.1 524.4,312.8 521.4,314.0 518.6,316.1 515.9,318.1 512.6,318.7 509.2,319.0 505.8,319.3 502.5,320.0 499.4,321.1 496.4,322.4 493.5,324.1 490.8,326.3 487.9,327.7 484.5,328.2 481.6,329.7 479.0,331.8 476.7,334.6 474.4,337.2 471.8,339.1 468.9,340.6 465.7,341.3 462.4,342.0 459.6,343.5 456.9,345.2 454.4,347.2 451.4,348.3 447.9,348.6 444.9,349.7 441.9,350.8 439.4,352.6 437.1,354.9 434.9,357.1 432.3,358.8 429.8,360.6 427.2,362.1 424.3,363.2 421.6,364.6 419.5,366.8 417.1,368.5 414.7,370.3 411.6,371.2 408.4,371.8 405.6,373.1 403.6,375.3 401.3,377.1 399.4,379.4 396.9,380.9 394.3,382.4 391.6,383.6 389.0,385.0 386.7,386.7 384.9,389.1 382.7,390.8 380.5,392.6 377.9,393.7 Z" fill="#b6dba9"/>
<path d="M362.8,432.6 365.3,430.6 367.4,428.3 369.5,426.1 371.6,424.0 374.2,422.8 377.1,422.0 380.1,421.2 382.7,419.9 384.9,417.9 386.8,415.4 388.7,412.9 390.9,410.7 393.4,409.3 396.2,408.1 398.5,406.1 400.8,404.2 402.6,401.5 405.2,399.9 407.7,398.2 410.2,396.5 412.7,394.9 415.6,393.8 418.0,391.9 420.2,389.8 422.2,387.3 424.8,385.7 427.8,384.9 431.1,384.7 433.8,383.5 436.6,382.2 439.1,380.6 441.9,379.4 444.5,377.7 447.5,376.9 450.5,376.0 453.5,375.2 456.4,374.1 459.0,372.2 461.4,370.0 464.4,369.0 467.3,367.8 470.5,367.0 473.3,365.5 476.1,363.9 478.5,361.5 481.1,359.4 483.9,357.7 487.3,357.4 490.7,357.1 493.6,355.6 496.4,353.7 499.1,351.7 501.9,349.8 504.8,348.2 508.1,347.8 511.3,346.9 514.7,346.7 517.9,345.8 520.9,344.4 523.9,343.1 526.9,341.8 529.9,340.5 533.3,340.2 536.4,339.0 539.1,337.0 542.1,335.6 545.1,334.2 548.2,333.2 551.3,332.3 554.5,331.5 557.7,330.9 560.8,329.7 563.5,327.9 566.1,325.8 569.3,324.9 572.6,324.3 575.9,323.7 579.4,323.5 582.1,321.5 584.5,318.9 587.2,317.0 590.0,315.4 593.4,315.1 596.7,314.5 599.4,312.6 602.4,311.4 605.1,309.4 607.8,307.4 611.0,306.8 613.9,305.2 617.1,304.5 620.3,303.9 623.3,302.7 626.2,301.3 629.0,299.9 631.7,298.1 635.1,298.1 638.1,297.3 641.1,296.5 643.6,294.6 646.4,293.3 649.1,291.8 651.9,290.7 654.8,289.9 658.2,290.9 661.2,290.6 664.3,290.2 667.0,288.5 669.8,287.4 672.8,286.8 675.9,286.6 678.7,285.5 681.5,284.3 684.5,283.8 687.3,282.5 690.1,281.4 693.1,281.1 696.0,281.0 699.0,281.7 701.8,282.4 704.4,281.1 707.0,279.5 709.7,279.0 712.3,279.8 714.7,280.7 717.1,281.5 719.5,282.1 721.8,282.3 724.1,283.0 726.6,283.0 729.2,283.0 731.3,284.5 733.4,285.6 735.6,286.5 737.8,287.1 740.1,287.6 742.0,288.3 743.4,289.6 744.3,291.2 745.2,292.4 746.1,293.5 747.0,294.6 748.1,295.5 749.0,296.5 750.0,297.6 L750.0,301.2 749.1,300.7 748.2,300.2 747.4,299.7 746.4,299.3 745.3,299.0 744.2,298.4 743.0,297.6 741.5,296.9 739.8,296.1 737.8,295.6 735.5,295.7 733.3,295.1 730.9,295.3 728.7,294.2 726.4,293.1 724.0,293.0 721.7,293.9 719.3,293.8 717.1,294.8 714.7,294.4 712.2,294.2 709.6,293.7 707.0,293.6 704.4,294.4 702.2,296.7 699.6,297.8 696.9,298.3 693.9,298.2 691.0,298.8 688.4,300.1 685.7,301.6 683.0,302.7 680.5,304.6 677.7,305.6 674.8,306.4 671.7,306.8 668.8,307.5 666.2,309.3 663.6,310.9 660.9,312.0 657.9,312.6 654.7,312.5 651.8,313.1 648.9,313.9 646.1,314.9 643.7,317.1 640.8,317.9 637.9,319.2 634.8,319.9 631.8,320.9 629.1,322.5 626.8,325.1 624.1,326.9 621.5,329.1 618.5,330.1 615.4,331.2 612.2,331.8 609.2,333.0 606.3,334.3 603.5,336.1 600.7,337.6 597.8,339.0 594.3,339.2 590.9,339.7 587.7,340.5 585.0,342.3 582.3,344.4 579.9,346.7 576.7,347.7 573.5,348.5 570.2,349.2 567.5,351.1 564.6,352.4 562.0,354.3 559.2,355.9 556.3,357.3 553.1,358.1 550.1,359.4 547.0,360.3 544.4,362.8 541.7,364.8 538.4,365.4 535.1,365.9 531.9,366.6 528.4,366.9 525.6,368.7 522.7,370.2 519.8,371.7 516.9,373.4 513.7,374.2 510.5,374.8 507.2,375.4 504.1,376.2 501.2,378.0 498.3,379.5 495.3,380.7 492.3,381.9 488.9,382.0 485.5,382.3 482.5,383.5 479.7,385.1 477.1,387.1 474.5,389.3 471.5,390.2 468.5,391.2 465.4,392.0 462.6,393.4 460.0,395.1 457.7,397.5 454.8,398.7 451.8,399.3 448.7,399.8 445.7,400.4 442.9,401.5 440.5,403.3 437.7,404.5 435.2,406.2 432.3,406.9 429.3,407.5 426.6,408.5 423.9,409.8 421.1,410.8 418.8,412.6 415.8,413.0 413.2,414.0 410.2,414.4 407.3,414.8 404.7,415.7 402.3,417.1 400.1,418.8 397.7,420.3 395.1,421.1 392.2,421.4 389.6,422.1 387.1,423.3 385.3,425.6 383.0,426.9 380.3,427.4 377.5,427.8 374.6,427.9 371.9,428.4 369.6,429.5 367.5,431.1 365.4,432.5 362.8,432.6 Z" fill="#b6dba9"/>
<path d="M374.4,452.0 376.9,450.2 379.5,448.9 382.0,447.2 384.3,445.3 386.8,443.8 389.5,442.9 392.3,442.6 394.9,441.2 397.6,440.2 399.8,437.9 402.3,436.3 404.8,434.7 407.5,433.8 410.2,432.7 413.5,433.2 416.2,432.1 418.9,430.9 421.3,428.8 423.6,426.4 426.1,424.6 429.1,424.1 431.9,423.0 434.7,421.9 437.5,421.1 440.2,419.9 443.2,419.3 446.3,419.3 449.2,418.7 452.4,418.7 455.5,418.4 457.9,416.1 460.6,414.7 463.4,413.2 466.3,412.3 469.7,412.5 472.6,411.3 475.5,410.3 478.5,409.1 481.1,407.1 483.8,405.3 486.9,404.3 490.1,403.7 493.4,403.4 496.7,402.9 499.8,402.2 502.7,400.6 505.4,398.5 508.3,396.9 511.5,396.1 514.7,395.4 517.7,394.2 520.3,391.8 523.2,390.2 526.3,389.3 529.5,388.5 532.6,387.5 536.1,387.6 539.2,386.5 542.2,385.1 545.0,383.4 547.8,381.4 550.7,380.0 554.2,380.1 557.7,380.0 561.1,379.6 564.1,378.4 566.9,376.7 569.6,374.9 573.1,374.6 576.5,374.0 579.3,372.4 582.0,370.7 584.4,368.2 586.5,365.2 589.3,363.6 591.7,361.2 594.6,359.7 597.9,359.0 600.8,357.6 603.8,356.5 606.8,355.3 609.5,353.4 612.7,352.8 616.1,352.3 619.1,351.2 622.0,349.7 624.2,346.9 626.5,344.4 629.3,342.9 632.1,341.4 635.3,340.7 638.7,340.4 641.7,339.5 644.6,338.4 646.7,335.9 649.0,333.9 651.8,332.7 654.3,331.3 657.0,330.0 659.5,328.5 662.1,327.1 664.5,325.0 667.0,323.3 669.8,322.1 672.9,321.8 676.0,321.5 678.8,320.4 681.2,318.4 683.7,316.7 686.4,315.6 689.3,314.8 692.1,314.1 694.9,313.1 697.4,311.9 700.1,311.1 702.6,309.9 704.9,308.4 707.5,308.2 709.9,307.4 712.4,307.3 714.9,307.2 717.0,306.0 719.0,304.4 721.2,303.4 723.4,302.5 725.9,303.3 728.3,304.2 730.6,304.2 732.9,304.0 735.2,304.0 737.3,304.3 739.3,304.5 741.1,305.1 742.7,305.0 744.0,304.7 745.2,304.2 746.2,304.0 747.2,303.9 748.1,304.1 749.0,304.2 750.0,304.3 L750.0,308.6 749.0,309.4 748.0,310.1 746.9,310.7 745.8,311.3 744.6,311.9 743.8,313.2 742.6,314.3 740.9,315.0 739.0,315.3 736.8,315.5 734.7,316.3 732.5,317.1 730.2,317.7 728.0,318.6 725.6,318.9 723.0,318.6 720.7,319.3 718.0,319.2 716.0,320.5 713.8,321.7 711.7,323.0 709.2,323.6 706.9,324.7 704.4,325.7 702.2,327.2 700.1,329.1 698.3,331.8 696.1,333.7 693.6,335.2 690.6,335.8 687.1,335.7 684.3,336.7 682.0,338.7 679.5,340.4 677.5,342.8 675.1,344.8 672.3,346.0 669.7,347.4 666.8,348.5 664.4,350.2 662.5,352.8 660.2,354.7 657.8,356.5 655.3,358.0 652.2,358.8 649.6,360.3 647.1,362.0 645.1,364.6 642.5,366.4 639.5,367.4 636.4,368.5 633.6,369.8 630.7,371.3 628.0,372.9 625.1,374.3 622.4,376.0 619.4,377.3 616.2,378.0 612.6,378.1 609.6,379.4 607.2,381.7 604.5,383.5 602.5,386.5 599.8,388.3 597.2,390.3 594.4,391.9 591.6,393.6 589.1,395.6 587.1,398.8 584.0,399.9 581.2,401.4 577.9,402.0 575.1,403.6 571.8,404.3 569.0,405.9 566.1,407.3 563.3,409.1 560.3,410.3 557.0,410.9 553.8,411.5 550.6,412.2 547.9,414.3 545.4,416.9 542.8,419.1 539.6,420.0 536.3,420.3 532.9,420.6 530.0,422.1 526.7,422.7 523.7,423.8 520.6,424.8 517.3,425.3 514.2,426.4 510.9,426.5 507.8,427.4 505.2,429.9 502.2,431.2 499.4,432.9 496.3,434.0 492.9,433.6 489.7,434.2 486.5,434.7 483.2,434.7 480.4,436.3 477.5,437.6 474.5,438.4 471.3,438.5 468.3,438.9 465.5,440.3 462.8,442.3 460.0,443.9 457.2,445.0 454.2,445.5 451.2,445.6 448.0,445.3 445.0,445.4 442.2,446.4 439.5,448.0 436.7,449.0 433.7,449.2 430.6,448.7 427.4,447.7 424.6,448.3 421.8,449.1 418.9,449.5 416.1,450.2 413.0,449.5 410.1,449.5 407.2,449.5 404.4,449.6 401.7,450.2 399.1,451.4 396.3,451.6 393.6,452.1 390.6,451.5 387.7,451.1 385.0,451.4 382.4,451.9 379.8,452.5 377.1,452.6 374.4,452.0 Z" fill="#b6dba9"/>
<path d="M398.6,469.2 401.3,467.4 404.1,466.5 406.9,466.6 409.9,467.1 412.7,466.3 415.7,466.2 418.5,465.4 421.3,464.7 424.1,463.3 426.9,462.5 429.9,462.6 432.8,461.8 435.7,461.1 438.6,460.2 441.5,459.0 444.4,458.1 447.2,457.2 450.2,456.8 453.4,457.7 456.3,456.9 459.1,455.6 462.0,454.4 464.9,453.6 468.0,453.4 471.2,453.7 474.3,453.6 477.5,453.6 480.5,452.4 483.1,450.1 486.1,449.1 489.4,449.0 492.5,448.3 495.6,447.8 498.7,446.8 501.7,445.8 504.8,444.8 507.8,443.5 510.8,442.3 514.1,442.2 517.5,442.3 520.5,441.0 523.5,439.8 526.3,437.7 529.6,437.4 532.6,436.2 536.2,436.6 539.2,435.4 542.4,434.7 545.1,432.6 548.0,431.1 550.8,429.4 554.2,429.0 557.1,427.5 560.5,427.4 563.7,426.5 566.3,424.4 569.1,422.8 571.5,420.4 574.6,419.3 578.0,418.8 580.9,417.5 583.5,415.5 586.4,414.0 588.8,411.8 591.1,409.4 593.8,407.6 596.8,406.2 599.8,405.0 603.1,404.3 605.4,401.8 607.9,399.7 611.0,398.7 614.1,397.6 617.4,396.9 620.7,396.2 623.2,394.1 625.8,392.2 628.3,390.1 630.7,387.8 633.4,386.1 636.2,384.6 638.9,382.9 641.8,381.6 644.0,379.2 646.3,377.0 648.6,375.0 651.3,373.5 653.8,371.9 656.6,370.6 658.7,368.4 660.5,365.8 662.5,363.3 664.8,361.3 667.6,360.1 670.9,359.6 673.7,358.5 676.2,356.8 679.0,355.5 681.1,353.2 683.2,350.9 685.9,349.4 688.9,348.6 691.6,347.2 693.9,345.4 696.0,343.3 697.9,340.9 700.7,340.0 703.1,338.5 705.8,337.6 708.3,336.5 710.8,335.4 712.9,333.9 714.6,332.0 716.6,330.5 719.1,329.9 721.4,329.0 723.9,328.8 726.1,328.0 727.9,326.0 729.9,324.3 732.0,322.9 734.3,322.2 736.8,322.0 738.9,321.2 740.7,320.1 742.2,318.9 743.6,317.8 744.6,316.4 746.0,315.5 747.1,314.5 748.1,313.4 749.0,312.1 750.0,310.9 L750.0,313.0 748.9,314.5 747.9,316.0 746.8,317.5 745.9,319.1 744.4,320.3 743.0,321.6 741.7,323.0 740.0,324.2 738.3,325.6 736.2,326.7 733.7,327.1 731.5,328.3 728.9,328.9 726.6,330.0 724.6,332.1 722.6,333.8 721.0,335.9 719.0,337.5 716.2,338.0 713.6,338.9 711.6,340.7 710.1,343.0 708.2,345.0 705.9,346.5 703.4,347.8 700.7,349.0 698.7,351.1 696.4,353.0 694.2,355.0 692.4,357.6 689.7,359.1 686.8,360.1 683.9,361.3 681.0,362.5 678.9,364.8 676.9,367.2 674.9,369.7 672.6,371.7 669.3,372.3 666.5,373.6 664.2,375.6 662.2,377.9 660.2,380.3 658.0,382.4 655.6,384.3 653.5,386.5 650.8,388.0 647.6,389.0 645.0,390.6 643.2,393.6 641.0,396.0 638.6,398.1 635.7,399.5 632.4,400.3 629.7,401.9 627.0,403.8 624.2,405.2 621.8,407.5 619.3,409.6 616.2,410.6 612.9,411.3 610.0,412.7 607.2,414.4 604.7,416.5 602.3,418.7 599.2,419.9 596.3,421.3 593.8,423.4 590.4,424.0 587.9,426.1 585.8,428.9 583.1,430.6 580.5,432.5 577.5,433.8 574.1,434.2 571.4,435.9 568.5,437.2 565.7,438.8 563.0,440.9 559.9,441.7 556.7,442.4 553.5,443.3 550.4,444.2 547.6,446.0 545.0,448.2 542.0,449.6 539.0,450.9 535.6,450.9 532.4,451.6 529.1,451.9 526.1,453.1 523.1,454.4 520.1,455.4 517.0,456.3 513.7,456.8 510.3,456.6 507.1,456.9 504.0,457.9 501.1,459.4 498.2,460.8 495.2,461.9 492.3,463.5 488.9,462.9 486.0,464.5 483.0,465.6 480.1,467.0 477.1,468.2 474.0,468.3 470.6,466.7 467.4,466.3 464.4,466.5 461.4,466.8 458.4,467.6 455.4,468.6 452.4,468.7 449.3,468.7 446.2,468.5 443.1,468.1 440.2,469.4 437.3,470.1 434.3,470.4 431.3,470.7 428.2,470.5 425.2,470.4 422.3,470.4 419.3,470.3 416.4,471.2 413.4,471.1 410.5,471.1 407.5,470.1 404.5,469.3 401.5,469.1 398.6,469.2 Z" fill="#b6dba9"/>
<g filter="url(#blur2)"><path d="M367.5,379.3 369.5,376.7 371.4,374.0 373.3,371.4 375.0,368.5 377.0,366.0 379.5,363.9 382.1,361.7 384.3,359.4 386.1,356.6 387.7,353.7 390.0,351.3 392.2,348.9 394.4,346.6 396.8,344.3 398.9,341.8 401.0,339.2 403.2,336.9 405.3,334.3 407.6,332.0 410.0,329.8 412.5,327.6 414.9,325.4 417.0,322.9 419.3,320.5 421.6,318.3 424.1,316.1 427.0,314.4 429.5,312.3 431.8,310.0 434.3,307.8 436.4,305.2 438.8,303.0 441.7,301.3 444.2,299.2 446.9,297.2 449.7,295.4 452.2,293.2 454.7,291.0 457.3,289.0 460.0,287.1 463.2,286.0 466.4,284.8 469.2,283.1 471.8,280.9 474.6,279.2 477.6,277.7 480.7,276.4 483.9,275.5 487.0,274.4 490.1,273.1 493.2,271.9 496.1,270.4 499.2,269.0 502.3,267.8 505.4,266.8 508.5,265.5 511.6,264.4 514.5,262.9 517.5,261.3 520.6,260.2 523.9,259.5 527.1,258.8 530.4,258.1 533.6,257.4 536.8,256.5 539.8,255.1 542.9,253.7 546.1,253.0 549.3,252.3 552.6,251.6 555.6,250.2 558.6,248.7 561.7,247.4 564.7,246.3 567.9,245.2 571.2,244.5 574.4,243.9 577.6,242.8 580.6,241.4 583.7,240.2 586.8,239.2 589.9,238.2 593.2,237.5 596.4,236.7 599.5,235.5 602.6,234.5 605.7,233.2 608.9,232.3 612.1,231.7 615.5,231.6 618.7,231.0 622.0,230.5 625.1,229.3 628.3,228.3 631.5,228.1 634.8,228.1 638.1,228.2 641.4,228.2 644.7,228.1 647.9,227.7 651.2,227.4 654.5,227.2 657.8,227.5 661.1,227.6 664.3,228.1 667.6,227.5 670.9,227.1 674.2,226.8 677.4,226.4 680.7,226.3 684.0,226.5 687.3,226.6 690.6,226.9 694.0,227.1 697.3,227.6 700.4,228.7 703.5,230.0 706.4,231.7 709.3,233.1 712.3,234.4 715.2,235.8 718.2,237.0 721.2,238.3 723.7,240.3 726.2,242.5 728.3,245.0 730.8,247.0 733.1,249.2 735.7,251.2 737.7,253.8 739.5,256.5 741.2,259.2 742.9,261.9" stroke="#d8ecd0" stroke-width="4" fill="none"/><path d="M347.9,412.9 350.2,411.1 352.5,409.2 354.5,407.0 356.3,404.5 358.3,402.3 359.7,399.4 361.8,397.1 364.3,395.3 366.6,393.2 368.7,391.0 370.6,388.5 372.2,385.7 373.9,383.1 375.7,380.5 377.9,378.4 380.7,376.7 383.4,374.8 385.5,372.5 387.3,370.0 389.1,367.5 391.6,365.5 394.2,363.8 397.0,362.1 399.6,360.2 401.6,357.8 403.6,355.3 405.8,353.1 408.1,350.9 410.7,349.1 413.3,347.3 415.9,345.6 418.1,343.1 419.9,340.3 422.1,338.0 424.6,336.0 427.3,334.3 430.4,333.0 432.8,330.9 435.2,328.9 437.7,326.8 440.0,324.6 442.8,323.0 446.0,322.0 448.5,320.0 451.4,318.4 453.9,316.3 456.1,313.6 458.6,311.4 461.3,309.6 464.2,308.1 467.6,307.4 470.7,306.3 473.4,304.3 476.0,302.0 478.8,300.3 481.9,299.1 485.1,298.2 488.4,297.5 491.6,296.6 494.6,295.2 497.6,293.7 500.5,292.2 503.7,291.3 507.0,290.6 510.1,289.7 513.2,288.3 516.2,286.9 519.0,285.1 521.8,283.2 525.0,282.3 528.2,281.4 531.6,281.2 534.8,280.5 537.9,279.1 540.9,277.8 543.8,276.2 546.8,274.8 550.3,274.8 553.7,274.4 556.6,273.1 559.6,271.6 562.4,269.8 565.6,268.9 568.8,267.9 571.8,266.7 575.1,265.9 578.4,265.4 581.4,264.0 584.1,262.0 587.1,260.5 590.2,259.6 593.5,259.0 596.7,258.3 599.8,257.1 602.7,255.5 605.8,254.4 608.8,252.8 611.8,251.7 615.2,251.6 618.6,251.7 622.0,251.4 625.0,250.6 627.9,248.7 630.9,247.3 634.2,247.5 637.5,247.9 640.7,247.7 643.7,247.0 646.8,246.5 650.0,245.5 653.1,245.1 656.3,244.6 659.5,244.7 662.7,245.1 665.9,245.3 669.1,244.3 672.2,243.4 675.4,243.0 678.6,242.3 681.8,242.1 685.0,242.2 688.2,241.8 691.4,241.5 694.6,241.2 697.8,241.6 700.8,243.2 703.6,245.0 706.4,246.3 709.2,247.2 712.2,247.6 715.1,248.2 718.2,248.6 721.1,249.5 723.6,251.3 725.8,253.3 727.9,255.4 730.7,256.6 733.2,258.2 735.7,260.1 737.4,262.6 739.1,265.0 740.8,267.3 742.6,269.5" stroke="#e6f2fb" stroke-width="4" fill="none"/><path d="M420.8,360.0 423.1,357.8 425.7,356.1 428.2,354.4 430.9,352.7 433.7,351.2 435.9,348.9 438.4,347.1 441.0,345.2 443.8,343.9 447.0,343.0 450.3,342.4 453.1,340.9 455.8,339.2 458.3,337.2 460.7,334.9 463.7,333.6 466.7,332.5 469.7,331.3 472.7,329.9 475.2,327.7 477.7,325.3 480.4,323.4 483.3,321.9 486.6,321.2 489.7,320.1 492.6,318.5 495.6,317.2 498.5,315.6 501.5,314.3 504.7,313.3 508.1,312.9 511.5,312.7 514.7,311.9 517.6,310.1 520.3,308.2 523.3,306.7 526.3,305.4 529.6,304.7 532.7,303.7 536.0,303.2 539.1,302.2 541.9,300.2 544.9,298.6 548.0,297.7 551.2,296.9 554.5,296.3 557.7,295.5 560.2,293.2 563.2,291.8 566.2,290.5 569.5,289.9 572.6,288.8 575.9,288.1 578.8,286.5 581.7,285.1 584.5,283.3 587.2,281.2 590.2,279.7 593.5,279.4 596.7,278.6 599.7,277.4 602.7,275.8 605.5,274.2 608.8,273.6 612.0,272.8 615.1,271.9 618.5,271.8 621.8,271.4 624.9,270.5 627.8,269.1 630.5,267.2 633.6,266.6 637.0,267.0 640.2,267.2 643.1,266.1 645.9,264.5 648.9,263.6 652.0,263.1 655.1,262.7 658.1,262.2 661.2,261.8 664.3,261.7 667.5,261.6 670.5,260.4 673.5,259.5 676.6,259.5 679.8,259.3 682.8,258.9 685.9,258.8 688.9,257.5 691.9,256.7 695.0,256.3 698.1,256.9 700.9,258.6 703.7,260.0 706.5,259.9 709.4,259.9 712.2,259.9 715.0,260.2 717.8,260.8 720.4,261.7 722.9,262.7 725.3,264.0 728.0,264.8 730.9,265.5 733.2,267.1 735.2,269.1 736.7,271.6 738.3,273.8 740.2,275.5 742.1,277.1" stroke="#d8ecd0" stroke-width="4" fill="none"/><path d="M348.6,428.9 350.8,427.6 352.9,426.0 354.9,424.3 357.1,422.7 359.3,421.1 361.8,419.7 364.5,418.7 367.1,417.5 369.3,415.7 371.2,413.5 373.3,411.6 375.7,410.1 378.3,409.0 380.8,407.6 383.1,405.8 385.0,403.6 387.0,401.3 388.8,398.9 391.3,397.4 394.0,396.2 396.5,394.6 398.9,392.9 401.0,390.7 403.2,388.8 405.6,387.1 407.9,385.1 410.6,383.8 413.7,383.1 416.4,381.7 418.7,379.6 420.9,377.4 423.3,375.5 426.1,374.3 429.2,373.6 431.9,372.2 434.4,370.5 437.0,368.9 439.5,367.1 441.9,365.2 444.7,363.9 447.7,362.8 450.7,361.9 453.9,361.2 456.7,359.7 459.1,357.6 462.0,356.3 464.9,354.9 468.1,354.1 471.1,353.0 473.9,351.5 476.4,349.4 478.9,347.0 481.5,344.8 484.5,343.6 487.6,342.7 490.7,341.6 493.6,340.0 496.3,337.9 499.1,336.1 502.1,334.6 505.3,333.9 508.5,333.1 512.0,332.9 515.3,332.3 518.4,331.3 521.3,329.6 524.1,327.9 527.2,326.7 530.5,326.2 533.7,325.2 536.7,323.9 539.7,322.6 542.8,321.5 545.7,320.1 548.8,318.9 552.0,318.2 555.2,317.6 558.2,316.2 561.1,314.7 563.7,312.5 566.8,311.4 570.0,310.5 573.2,309.9 576.5,309.1 579.6,308.0 582.2,305.8 584.9,303.9 587.7,302.1 590.7,301.0 593.9,300.1 597.0,299.1 600.0,297.8 602.8,296.1 605.6,294.3 608.7,293.2 611.8,292.4 615.1,291.9 618.3,291.3 621.5,290.5 624.5,289.6 627.3,288.0 630.1,286.4 633.2,285.5 636.4,285.1 639.5,284.8 642.3,283.8 645.1,282.3 647.8,280.8 650.7,279.7 653.7,279.4 656.9,279.6 660.0,279.2 663.0,278.8 665.9,277.5 668.9,277.0 671.8,275.9 674.9,275.3 677.9,274.9 680.9,274.4 683.9,273.8 686.8,273.2 689.6,271.6 692.6,271.0 695.6,270.8 698.6,271.5 701.4,272.6 704.2,272.4 706.9,271.3 709.6,271.0 712.3,271.5 714.9,272.3 717.3,273.3 719.8,273.9 722.2,274.4 724.7,275.1 727.3,275.3 730.0,275.6 732.1,277.2 734.2,278.8 736.0,280.5 738.0,281.8 740.0,282.8 742.0,283.9" stroke="#e6f2fb" stroke-width="4" fill="none"/><path d="M406.2,407.3 409.0,406.3 411.7,405.3 414.3,404.0 417.2,403.2 419.5,401.3 422.0,399.8 424.4,397.9 427.1,396.6 430.0,395.9 433.1,395.4 435.8,394.0 438.5,392.7 441.0,391.0 443.8,389.9 446.6,388.7 449.6,388.1 452.6,387.4 455.6,386.4 458.2,384.6 460.8,382.8 463.4,381.0 466.4,380.1 469.4,379.0 472.5,378.1 475.2,376.3 477.9,374.5 480.5,372.5 483.3,370.8 486.4,369.9 489.8,369.7 493.0,368.9 496.0,367.6 498.8,365.8 501.6,364.0 504.6,362.6 507.6,361.5 510.9,361.0 514.1,360.2 517.3,359.2 520.3,358.0 523.3,356.5 526.2,355.0 529.4,354.2 532.5,353.2 535.9,352.8 539.0,351.9 541.8,349.9 544.6,347.9 547.6,346.8 550.7,345.7 553.8,344.8 556.8,343.7 559.9,342.6 562.7,341.1 565.5,339.5 568.2,337.5 571.4,336.7 574.7,336.0 577.9,335.2 580.9,333.9 583.5,331.9 586.1,329.7 589.0,328.3 592.1,327.3 595.6,327.1 598.7,326.1 601.5,324.4 604.3,322.9 607.1,321.2 610.0,319.6 613.2,319.0 616.2,317.7 619.3,316.8 622.2,315.4 625.0,313.9 627.6,311.9 630.4,310.4 633.3,309.0 636.5,308.7 639.4,307.6 642.4,306.8 644.8,304.8 647.6,303.6 650.4,302.5 653.3,301.6 656.4,301.2 659.5,301.5 662.4,300.8 665.2,299.7 667.9,298.0 670.8,297.1 673.8,296.6 676.8,296.1 679.6,295.0 682.3,293.5 685.1,292.7 687.8,291.3 690.6,290.1 693.5,289.6 696.4,289.7 699.3,289.8 702.0,289.6 704.4,287.8 707.0,286.5 709.6,286.4 712.2,287.0 714.7,287.5 717.1,288.1 719.4,287.9 721.7,288.1 724.1,288.0 726.5,288.0 728.9,288.6 731.1,289.9 733.4,290.4 735.5,291.1 737.8,291.3 739.9,291.9 741.8,292.6" stroke="#d8ecd0" stroke-width="4" fill="none"/><path d="M349.0,447.1 351.2,446.3 353.6,446.2 356.0,445.6 358.6,445.5 361.2,445.0 363.7,444.1 366.1,442.8 368.3,441.0 370.5,439.4 373.0,438.3 375.6,437.6 378.4,437.2 380.9,436.2 383.4,434.8 385.8,433.5 388.0,431.8 390.7,431.2 393.4,430.2 396.2,429.7 398.6,428.2 401.0,426.6 403.3,424.9 405.9,423.9 408.6,422.9 411.8,423.1 414.6,422.4 417.3,421.3 419.9,420.1 422.3,418.1 424.9,416.8 427.8,416.2 430.6,415.3 433.5,414.4 436.4,413.7 439.0,412.2 441.8,411.3 444.6,410.4 447.5,409.6 450.6,409.2 453.6,408.8 456.4,407.4 459.1,406.1 461.7,404.2 464.5,402.9 467.6,402.3 470.5,401.3 473.5,400.2 476.5,399.2 479.1,397.1 481.8,395.2 484.7,393.9 487.8,393.0 491.1,392.7 494.5,392.4 497.6,391.5 500.5,390.0 503.3,388.2 506.2,386.6 509.4,385.8 512.6,385.1 515.7,384.2 518.6,382.6 521.5,381.0 524.5,379.7 527.6,378.6 530.5,377.2 534.0,377.1 537.1,376.2 540.3,375.3 543.3,374.1 546.1,372.1 548.8,370.1 552.2,369.7 555.4,369.0 558.7,368.5 561.6,367.2 564.4,365.5 567.1,363.7 570.3,362.8 573.3,361.6 576.4,360.5 579.4,359.2 582.1,357.5 584.4,354.8 587.1,353.0 589.7,350.9 592.7,349.7 596.1,349.1 599.3,348.3 602.2,347.0 605.2,345.7 607.9,343.9 611.0,342.9 614.1,342.1 617.3,341.2 620.2,339.9 622.8,338.0 625.3,335.7 628.0,334.0 630.6,332.0 633.6,330.8 636.8,330.1 639.8,329.3 642.7,328.2 645.2,326.5 647.5,324.4 650.3,323.3 653.1,322.2 655.9,321.2 658.7,320.5 661.5,319.5 664.1,318.0 666.6,316.3 669.3,314.8 672.3,314.3 675.4,314.0 678.2,313.0 680.8,311.5 683.3,309.7 686.1,308.6 688.8,307.4 691.6,306.5 694.4,305.7 697.2,305.1 699.9,304.4 702.4,303.3 704.7,301.4 707.2,300.9 709.8,300.6 712.3,300.7 714.8,300.8 717.0,300.4 719.2,299.1 721.4,298.7 723.7,297.7 726.2,298.2 728.5,299.2 730.8,299.7 733.1,299.6 735.3,299.9 737.6,299.9 739.6,300.3 741.3,301.0" stroke="#e6f2fb" stroke-width="4" fill="none"/><path d="M422.9,438.6 425.5,437.1 428.4,436.6 431.4,436.7 434.3,436.0 437.1,435.0 439.9,433.7 442.6,432.6 445.6,432.3 448.7,432.5 451.7,432.1 454.8,431.8 457.7,431.1 460.4,429.2 463.1,427.5 465.8,426.1 468.8,425.4 472.1,425.5 475.1,424.5 478.0,423.3 480.8,421.9 483.8,420.9 486.8,419.7 489.9,418.9 493.2,418.8 496.4,418.2 499.4,417.0 502.5,416.0 505.2,414.0 508.1,412.5 511.3,411.6 514.4,410.7 517.6,410.1 520.7,409.0 523.5,407.3 526.6,406.1 529.6,404.9 532.9,404.4 536.1,403.8 539.4,403.3 542.3,401.7 545.1,399.7 547.8,397.8 550.8,396.4 553.9,395.4 557.3,395.2 560.5,394.5 563.6,393.5 566.5,392.1 569.3,390.5 572.4,389.2 575.5,388.3 578.8,387.7 581.6,386.1 584.6,384.8 586.7,381.9 589.1,379.4 591.8,377.7 594.4,375.7 597.2,374.0 600.2,372.8 602.6,370.6 605.5,369.1 608.2,367.4 611.0,365.7 614.5,365.4 617.8,364.8 620.7,363.6 623.5,362.0 626.1,359.9 628.6,357.9 631.4,356.4 634.3,355.0 637.4,354.1 640.6,353.4 643.4,352.0 645.8,350.2 648.2,348.1 650.6,346.3 653.5,345.4 656.1,343.9 658.6,342.4 661.0,340.6 663.3,338.7 665.7,336.7 668.3,335.3 671.0,334.0 674.0,333.3 676.7,332.2 679.2,330.4 681.6,328.5 684.0,326.7 686.8,325.7 689.9,325.3 692.9,324.7 695.5,323.4 697.9,321.8 700.1,320.1 702.4,318.6 704.6,317.1 707.2,316.4 709.6,315.5 712.1,315.1 714.4,314.4 716.5,313.2 718.5,311.8 720.9,311.4 723.2,310.5 725.7,311.1 728.1,311.4 730.4,310.9 732.7,310.6 734.9,310.1 737.1,309.9 739.1,309.9 741.0,310.0" stroke="#d8ecd0" stroke-width="4" fill="none"/><path d="M349.5,463.0 351.9,463.4 354.1,464.4 356.6,465.2 359.2,465.4 361.9,465.3 364.6,464.9 367.2,464.3 370.0,464.9 372.7,464.6 375.5,464.7 378.2,464.1 380.8,462.8 383.5,462.0 386.3,461.6 389.0,461.1 391.9,461.5 394.7,461.0 397.4,460.0 400.1,459.1 402.8,458.0 405.7,457.8 408.6,458.1 411.4,457.6 414.3,457.7 417.3,457.7 420.1,456.8 422.8,455.7 425.7,454.8 428.6,454.6 431.6,454.7 434.6,454.5 437.5,453.9 440.4,452.9 443.2,451.7 446.0,450.8 449.1,450.6 452.2,451.4 455.2,451.0 458.1,450.2 461.0,449.2 463.9,447.9 466.7,446.8 469.7,446.3 472.8,446.0 476.0,446.0 479.0,445.0 481.8,443.2 484.7,441.9 487.9,441.8 491.1,441.3 494.2,440.7 497.5,440.4 500.6,439.4 503.5,438.0 506.5,436.7 509.3,434.9 512.5,434.3 515.9,434.3 518.9,433.2 522.1,432.3 525.0,430.8 528.1,430.1 531.3,429.2 534.5,428.6 537.7,427.9 541.0,427.3 543.9,425.9 546.7,424.0 549.4,421.8 552.4,420.6 555.4,419.5 558.8,419.1 562.0,418.4 564.8,416.7 567.6,415.1 570.2,413.1 573.2,411.8 576.5,411.2 579.4,409.7 582.4,408.4 585.2,406.9 587.9,405.3 590.1,402.5 592.7,400.6 595.6,399.1 598.5,397.7 601.4,396.3 603.9,394.2 606.2,391.6 609.1,390.2 611.9,388.5 615.0,387.5 618.4,387.1 621.3,385.7 624.1,384.1 626.7,382.2 629.3,380.4 632.0,378.7 634.9,377.2 637.7,375.7 640.6,374.5 643.3,372.8 645.7,370.8 647.8,368.5 650.5,366.9 653.0,365.3 656.0,364.3 658.3,362.4 660.4,360.3 662.5,358.0 664.6,355.7 667.2,354.3 670.3,353.5 673.0,352.2 675.7,350.8 678.2,349.2 680.3,346.8 682.6,344.8 685.1,343.1 688.0,342.1 691.1,341.5 693.8,340.3 696.1,338.5 698.1,336.3 700.4,334.6 702.7,332.9 705.1,331.6 707.6,330.6 710.0,329.5 712.3,328.4 714.2,326.8 716.3,325.5 718.6,324.5 721.0,324.2 723.5,323.7 725.8,323.5 727.9,322.3 730.0,321.0 732.3,320.0 734.5,319.2 736.8,318.7 738.9,318.2 740.8,317.5" stroke="#e6f2fb" stroke-width="4" fill="none"/><path d="M451.3,462.7 454.4,463.1 457.3,462.3 460.3,461.2 463.2,460.5 466.2,459.9 469.3,460.0 472.6,461.0 475.7,460.9 478.8,460.3 481.7,459.0 484.6,457.3 487.5,456.0 490.8,456.3 493.8,455.1 496.9,454.3 499.9,453.1 502.9,451.9 505.9,450.9 509.0,450.1 512.2,449.5 515.5,449.3 518.8,448.9 521.8,447.7 524.8,446.5 527.7,444.8 531.0,444.5 534.1,443.6 537.6,443.7 540.6,442.5 543.7,441.4 546.4,439.3 549.2,437.6 552.2,436.3 555.4,435.7 558.5,434.6 561.8,434.1 564.7,432.6 567.4,430.8 570.3,429.3 572.8,427.3 576.0,426.6 579.3,425.7 582.0,424.0 584.7,422.2 587.1,420.1 589.6,417.9 592.5,416.4 595.1,414.5 598.0,413.1 601.0,411.9 603.9,410.4 606.3,408.1 608.9,406.2 611.9,405.0 615.1,404.1 618.4,403.2 621.3,401.9 623.7,399.6 626.4,398.0 629.0,396.0 631.5,394.1 634.5,392.8 637.4,391.3 639.9,389.4 642.5,387.6 644.5,384.9 647.0,383.0 649.7,381.5 652.4,380.0 654.7,378.1 657.3,376.5 659.5,374.3 661.3,371.8 663.3,369.4 665.6,367.4 668.5,366.2 671.7,365.6 674.3,364.1 676.6,362.0 679.0,360.1 681.1,357.8 683.5,356.1 686.3,354.8 689.3,353.8 692.0,352.4 694.0,350.2 696.2,348.2 698.3,346.0 700.7,344.5 703.2,343.2 705.9,342.1 708.3,340.8 710.5,339.2 712.2,337.3 714.1,335.5 716.4,334.3 719.1,333.7 721.2,332.4 723.3,331.3 725.4,330.1 727.2,328.0 729.4,326.6 731.7,325.6 734.0,324.6 736.5,324.4 738.6,323.4 740.4,322.1" stroke="#d8ecd0" stroke-width="4" fill="none"/><path d="M349.4,478.1 351.6,479.7 354.3,480.6 357.0,481.5 359.9,481.7 362.8,481.7 365.5,482.5 368.4,483.2 371.3,483.8 374.2,483.8 377.2,483.1 380.1,482.4 383.0,482.4 385.8,483.2 388.8,483.8 391.7,483.8 394.7,483.8 397.7,482.6 400.7,482.4 403.6,482.6 406.5,482.9 409.5,483.5 412.5,484.0 415.5,483.8 418.5,483.4 421.4,482.5 424.4,482.5 427.5,482.9 430.5,483.2 433.5,483.4 436.5,483.1 439.6,482.3 442.6,482.1 445.6,481.6 448.7,482.4 451.7,482.6 454.8,482.8 457.9,482.4 460.9,481.9 463.9,481.1 467.0,480.7 470.1,480.9 473.3,481.3 476.5,481.7 479.6,481.1 482.7,480.0 485.7,479.0 488.8,478.7 491.8,477.8 495.2,478.1 498.2,477.2 501.3,476.1 504.2,474.6 507.2,473.2 510.3,472.4 513.6,472.5 516.9,472.5 520.0,471.3 523.0,470.0 526.0,468.8 529.1,467.9 532.2,467.0 535.6,466.9 538.8,466.4 542.2,466.3 545.2,465.0 547.9,463.1 550.7,461.3 553.8,460.3 557.0,459.4 560.0,458.2 563.1,457.3 566.0,455.9 568.6,453.8 571.4,452.1 574.0,450.2 576.8,448.8 580.2,448.3 583.0,446.7 585.8,445.0 588.6,443.4 590.8,440.8 593.8,439.6 597.1,438.8 599.7,436.9 602.2,434.8 604.7,432.7 606.9,430.2 609.5,428.3 612.3,426.6 615.3,425.4 618.5,424.5 621.7,423.5 624.1,421.3 626.6,419.2 629.2,417.3 632.0,415.7 634.6,414.0 637.6,412.7 640.3,410.9 642.5,408.6 644.7,406.3 647.1,404.2 649.8,402.5 653.0,401.4 655.6,399.7 657.5,397.2 659.7,395.0 661.3,392.4 663.1,389.8 665.3,387.5 667.9,385.8 670.6,384.2 673.5,383.0 675.7,380.9 677.7,378.4 680.0,376.3 682.6,374.6 685.5,373.2 688.2,371.8 690.8,370.1 692.8,367.8 694.7,365.3 696.5,362.9 698.8,360.9 700.9,358.8 703.7,357.5 706.0,355.9 708.1,353.9 709.9,351.7 711.6,349.5 713.7,347.6 716.2,346.4 718.6,345.0 720.3,343.0 722.2,340.9 724.2,339.0 726.3,337.1 728.9,336.1 731.6,335.4 734.1,334.2 736.3,333.0 738.3,331.3 740.0,329.5" stroke="#e6f2fb" stroke-width="4" fill="none"/><path d="M378.6,498.6 381.7,498.9 384.7,499.7 387.7,500.6 390.8,501.3 393.9,501.5 397.0,501.7 400.1,501.3 403.2,501.5 406.3,502.4 409.4,502.9 412.4,503.7 415.5,504.1 418.7,504.2 421.8,504.4 424.9,504.3 428.0,504.5 431.2,505.1 434.3,505.6 437.4,506.0 440.6,506.1 443.7,505.8 446.9,506.2 450.0,506.7 453.2,507.5 456.3,507.9 459.5,508.3 462.6,508.3 465.8,508.5 469.0,508.4 472.1,508.3 475.3,508.7 478.5,509.0 481.7,508.6 484.9,508.1 488.0,507.5 491.2,507.1 494.4,507.2 497.6,506.9 500.8,506.8 504.1,506.5 507.2,505.7 510.2,504.6 513.3,503.7 516.5,503.1 519.8,503.0 523.0,502.6 526.0,501.3 529.0,500.0 532.0,498.9 535.2,498.2 538.4,497.6 541.6,497.1 544.8,496.5 548.0,495.9 551.0,494.7 553.8,493.0 556.8,491.7 560.1,491.1 563.1,490.1 566.1,488.8 569.1,487.5 571.9,485.9 574.7,484.2 577.5,482.6 580.1,480.6 582.9,479.2 585.9,478.0 588.5,476.1 591.2,474.4 594.0,472.6 596.4,470.6 599.5,469.4 602.5,468.0 605.1,466.3 607.6,464.0 609.8,461.6 612.2,459.3 614.9,457.5 617.5,455.8 620.4,454.2 623.3,452.8 626.2,451.3 628.7,449.2 631.3,447.4 633.8,445.3 636.5,443.6 639.1,441.7 641.7,439.8 644.2,437.8 646.5,435.5 648.8,433.3 651.5,431.5 654.0,429.6 656.6,427.7 658.9,425.5 660.8,422.9 662.8,420.5 664.4,417.6 666.2,415.0 668.4,412.6 670.9,410.7 673.3,408.6 675.6,406.5 677.8,404.2 680.0,401.8 682.4,399.8 685.1,398.0 687.6,396.1 690.0,394.0 692.1,391.7 693.8,388.9 695.9,386.5 697.7,383.8 699.8,381.5 702.0,379.3 704.4,377.4 706.5,375.1 708.3,372.5 710.0,370.0 711.9,367.6 713.8,365.2 715.9,363.1 717.8,360.7 719.5,358.1 721.5,355.9 723.6,353.6 725.9,351.6 728.5,350.1 731.2,348.6 733.7,347.0 735.9,344.8 737.9,342.5 739.8,340.2" stroke="#d8ecd0" stroke-width="4" fill="none"/></g>
<g fill="none" stroke="#1d2320" stroke-width="2" stroke-linejoin="round">
<path d="M336.9,418.7 339.4,416.8 341.8,414.8 343.9,412.5 345.8,409.9 347.7,407.4 349.8,405.1 352.0,402.9 354.0,400.4 355.7,397.7 357.5,395.1 358.6,391.9 360.4,389.3 362.8,387.2 365.1,384.9 367.5,382.7 369.6,380.3 371.3,377.6 373.3,375.1 374.6,372.0 376.7,369.5 379.8,367.9 382.8,366.3 385.3,364.2 386.8,361.3 388.0,358.0 390.4,355.9 392.8,353.7 395.2,351.5 397.9,349.6 400.0,347.2 401.9,344.5 404.2,342.3 406.2,339.7 408.6,337.5 411.2,335.5 413.7,333.5 416.2,331.4 418.1,328.7 420.2,326.2 422.5,324.0 425.1,321.9 428.3,320.7 430.9,318.8 433.0,316.3 435.5,314.1 437.3,311.1 439.6,308.7 442.8,307.5 445.2,305.3 448.0,303.5 450.8,301.8 453.1,299.4 455.5,296.9 458.0,294.7 460.7,292.8 464.3,292.3 467.7,291.7 470.5,289.8 472.8,287.0 475.5,285.1 478.5,283.6 481.7,282.5 485.1,282.0 488.3,281.2 491.5,280.1 494.5,278.8 497.4,277.2 500.4,275.7 503.5,274.6 506.8,273.8 509.8,272.5 513.0,271.5 515.8,269.7 518.6,267.6 521.8,266.6 525.2,266.3 528.5,265.8 531.8,265.3 535.1,264.8 538.3,263.8 541.1,261.8 544.0,260.1 547.3,259.7 550.7,259.2 554.0,258.9 557.0,257.4 559.8,255.3 562.8,254.0 565.9,252.8 569.0,251.8 572.5,251.6 575.9,251.4 579.0,250.3 581.9,248.5 584.9,247.2 588.0,246.2 591.1,245.1 594.4,244.7 597.7,243.9 600.6,242.4 603.7,241.3 606.6,239.4 609.8,238.3 613.1,237.9 616.6,238.5 619.9,237.9 623.1,237.6 626.1,235.9 629.1,234.3 632.4,234.1 635.7,234.3 638.9,234.6 642.2,234.7 645.4,234.6 648.6,233.8 651.8,233.0 655.1,232.6 658.3,233.2 661.6,233.3 664.9,234.1 668.1,233.0 671.3,232.1 674.5,231.5 677.8,230.5 681.1,230.3 684.4,230.5 687.7,230.4 691.0,230.6 694.4,230.4 697.7,230.7 700.8,232.1 703.8,233.8 706.5,235.9 709.3,237.4 712.2,238.7 715.1,239.9 718.3,240.6 721.5,241.4 724.0,243.5 726.2,245.8 728.0,248.6 730.6,250.3 733.1,252.3 736.0,253.9 737.9,256.4 739.6,259.0 741.2,261.8 742.9,264.3 744.3,267.0 745.6,269.8 746.5,272.6 747.2,275.6 747.8,278.5 748.4,281.4 749.1,284.3 750.0,287.1"/>
<path d="M337.4,475.7 339.9,477.0 342.5,478.3 345.0,479.7 347.4,481.4 349.6,483.1 351.9,485.0 354.7,485.8 357.3,487.1 360.2,487.8 363.1,488.3 365.9,489.4 368.8,490.4 371.8,490.9 374.8,490.8 377.9,490.2 380.9,490.1 383.9,490.8 386.8,492.0 389.7,492.7 392.8,492.4 395.8,492.1 399.0,490.6 402.0,490.4 405.0,491.4 408.0,492.0 411.0,492.9 414.0,493.2 417.0,493.0 420.1,492.8 423.2,492.3 426.2,492.2 429.3,493.0 432.3,493.5 435.4,494.0 438.5,493.9 441.6,492.9 444.7,493.4 447.8,494.0 450.9,495.2 454.0,495.6 457.1,496.2 460.2,495.7 463.3,495.9 466.5,495.4 469.6,494.9 472.7,495.5 475.9,496.0 479.1,495.2 482.1,494.0 485.2,493.0 488.3,492.4 491.6,492.9 494.8,492.6 498.0,492.7 501.3,492.5 504.3,491.3 507.3,489.8 510.3,488.6 513.5,487.9 516.9,488.4 520.2,488.2 523.0,486.3 525.9,484.5 528.8,483.2 532.0,482.6 535.3,482.2 538.7,482.3 542.0,482.0 545.4,481.8 548.3,480.4 550.9,477.9 553.8,476.5 557.3,476.5 560.4,475.6 563.3,474.1 566.3,472.8 569.0,470.9 571.6,468.8 574.4,467.1 576.6,464.6 579.6,463.4 582.9,462.7 585.5,460.8 588.5,459.5 591.3,457.9 593.6,455.6 597.2,455.1 600.4,454.2 603.1,452.4 605.2,449.8 607.0,446.6 609.1,444.0 611.8,442.2 614.6,440.6 617.7,439.4 620.8,438.3 624.0,437.4 626.4,435.1 629.0,433.2 631.3,430.9 634.3,429.6 636.9,427.7 639.5,425.8 641.9,423.7 644.0,421.2 646.2,418.9 649.3,417.7 652.0,416.0 655.1,414.7 657.7,412.8 659.4,410.1 661.3,407.6 662.5,404.4 664.1,401.6 666.4,399.4 669.3,398.0 671.8,396.1 674.3,394.3 676.5,392.0 678.5,389.5 681.1,387.8 684.3,386.7 687.1,385.1 689.7,383.4 691.9,381.2 693.1,378.0 695.1,375.6 696.6,372.7 698.8,370.6 701.1,368.6 704.0,367.3 706.1,365.2 707.9,362.8 709.6,360.4 711.6,358.3 713.7,356.3 716.2,354.7 718.2,352.6 719.7,350.1 721.7,348.1 723.7,345.9 726.1,344.3 728.9,343.3 731.8,342.5 734.5,341.4 736.4,339.2 738.2,337.0 740.0,334.9 741.7,332.9 743.2,330.8 744.6,328.7 745.8,326.5 747.0,324.3 747.9,322.0 748.9,319.7 750.0,317.4"/>
<path d="M750.0,291.5 749.0,289.5 748.1,287.4 747.2,285.3 746.3,283.2 745.6,281.0 744.7,278.9 743.4,276.9 742.2,274.7 740.4,272.9 738.5,271.0 736.9,268.7 735.4,266.3 733.4,264.2 730.9,262.8 727.9,262.1 725.4,260.8 723.2,259.1 720.7,257.6 718.1,256.5 715.1,256.5 712.1,256.6 709.1,257.0 706.3,256.7 703.5,256.1 700.8,254.3 697.9,252.5 694.9,252.1 691.8,252.3 688.7,253.2 685.6,253.9 682.5,253.9 679.4,254.1 676.3,254.6 673.1,254.8 670.1,255.7 667.0,256.6 663.9,256.9 660.6,256.2 657.5,256.7 654.4,257.1 651.3,257.2 648.3,258.3 645.3,259.2 642.4,260.8 639.4,261.4 636.1,260.9 632.7,260.3 629.7,261.6 627.0,263.6 624.1,264.9 620.7,265.0 617.4,265.3 613.9,265.2 610.9,266.3 607.9,267.6 604.7,268.6 601.9,270.3 599.0,272.0 595.8,272.8 592.4,273.1 589.2,273.8 586.4,275.5 583.7,277.7 580.9,279.4 577.6,280.2 574.7,281.6 571.7,282.9 568.5,283.7 565.1,284.2 562.2,285.7 559.2,287.2 556.7,289.6 553.3,289.9 549.6,289.5 546.5,290.5 543.5,291.8 540.6,293.5 537.9,295.7 534.7,296.7 531.2,296.6 528.2,298.0 525.0,298.7 522.2,300.6 519.3,302.3 516.5,304.2 513.5,305.6 510.4,306.7 506.9,306.8 503.6,307.2 500.6,308.6 497.7,310.2 494.8,312.0 491.7,313.0 488.5,313.9 485.3,314.6 482.1,315.6 479.1,317.1 476.3,318.8 473.7,320.8 470.9,322.6 467.7,323.4 464.5,324.5 461.6,325.9 459.0,327.8 457.0,330.8 454.8,333.2 451.8,334.6 449.2,336.4 446.0,337.3 442.8,338.1 440.0,339.6 437.4,341.5 434.6,343.0 432.5,345.3 429.5,346.6 426.7,348.1 424.1,350.1 421.9,352.4 420.0,355.3 418.3,358.3 415.6,360.0 413.0,361.9 410.2,363.4 407.6,365.1 405.3,367.3 403.4,369.9 401.3,372.3 398.9,374.4 396.0,375.9 393.3,377.5 390.8,379.4 388.3,381.3 386.1,383.6 384.4,386.4 382.3,388.8 380.1,391.1 377.9,393.7 L377.9,393.7 380.5,392.6 382.7,390.8 384.9,389.1 386.7,386.7 389.0,385.0 391.6,383.6 394.3,382.4 396.9,380.9 399.4,379.4 401.3,377.1 403.6,375.3 405.6,373.1 408.4,371.8 411.6,371.2 414.7,370.3 417.1,368.5 419.5,366.8 421.6,364.6 424.3,363.2 427.2,362.1 429.8,360.6 432.3,358.8 434.9,357.1 437.1,354.9 439.4,352.6 441.9,350.8 444.9,349.7 447.9,348.6 451.4,348.3 454.4,347.2 456.9,345.2 459.6,343.5 462.4,342.0 465.7,341.3 468.9,340.6 471.8,339.1 474.4,337.2 476.7,334.6 479.0,331.8 481.6,329.7 484.5,328.2 487.9,327.7 490.8,326.3 493.5,324.1 496.4,322.4 499.4,321.1 502.5,320.0 505.8,319.3 509.2,319.0 512.6,318.7 515.9,318.1 518.6,316.1 521.4,314.0 524.4,312.8 527.7,312.1 530.9,311.4 534.2,310.9 537.3,309.7 540.4,308.7 543.3,306.9 546.2,305.5 549.5,304.8 552.8,304.3 555.7,302.8 558.7,301.4 561.2,299.1 564.2,297.8 567.3,296.8 570.6,296.0 573.6,294.7 577.1,294.6 579.9,292.7 582.6,290.7 585.4,288.9 588.1,286.8 591.1,285.7 594.6,285.6 597.6,284.3 600.5,282.8 603.4,281.2 606.3,279.7 609.7,279.6 613.1,279.2 616.3,278.7 619.6,278.3 622.9,277.8 625.6,276.1 628.5,274.7 631.3,272.8 634.6,272.9 637.8,273.0 641.0,272.9 643.8,271.3 646.6,269.8 649.5,268.8 652.7,269.0 655.7,268.3 658.7,267.7 661.8,267.3 664.8,266.5 668.0,266.6 670.8,265.1 673.8,264.1 677.0,264.4 680.2,264.5 683.2,263.9 686.3,263.8 689.1,261.8 692.1,261.0 695.2,260.6 698.2,261.3 701.1,262.9 703.9,263.8 706.8,263.1 709.6,262.9 712.4,263.2 715.0,264.0 717.5,265.2 720.1,265.7 722.7,266.4 725.2,267.2 728.0,267.6 730.9,268.1 733.0,269.9 734.9,272.0 736.4,274.5 738.1,276.5 740.0,278.0 741.9,279.4 743.5,281.0 744.8,282.7 745.6,284.6 746.6,286.4 747.4,288.1 748.3,289.9 749.2,291.7 750.0,293.5"/>
<path d="M750.0,297.6 749.0,296.5 748.1,295.5 747.0,294.6 746.1,293.5 745.2,292.4 744.3,291.2 743.4,289.6 742.0,288.3 740.1,287.6 737.8,287.1 735.6,286.5 733.4,285.6 731.3,284.5 729.2,283.0 726.6,283.0 724.1,283.0 721.8,282.3 719.5,282.1 717.1,281.5 714.7,280.7 712.3,279.8 709.7,279.0 707.0,279.5 704.4,281.1 701.8,282.4 699.0,281.7 696.0,281.0 693.1,281.1 690.1,281.4 687.3,282.5 684.5,283.8 681.5,284.3 678.7,285.5 675.9,286.6 672.8,286.8 669.8,287.4 667.0,288.5 664.3,290.2 661.2,290.6 658.2,290.9 654.8,289.9 651.9,290.7 649.1,291.8 646.4,293.3 643.6,294.6 641.1,296.5 638.1,297.3 635.1,298.1 631.7,298.1 629.0,299.9 626.2,301.3 623.3,302.7 620.3,303.9 617.1,304.5 613.9,305.2 611.0,306.8 607.8,307.4 605.1,309.4 602.4,311.4 599.4,312.6 596.7,314.5 593.4,315.1 590.0,315.4 587.2,317.0 584.5,318.9 582.1,321.5 579.4,323.5 575.9,323.7 572.6,324.3 569.3,324.9 566.1,325.8 563.5,327.9 560.8,329.7 557.7,330.9 554.5,331.5 551.3,332.3 548.2,333.2 545.1,334.2 542.1,335.6 539.1,337.0 536.4,339.0 533.3,340.2 529.9,340.5 526.9,341.8 523.9,343.1 520.9,344.4 517.9,345.8 514.7,346.7 511.3,346.9 508.1,347.8 504.8,348.2 501.9,349.8 499.1,351.7 496.4,353.7 493.6,355.6 490.7,357.1 487.3,357.4 483.9,357.7 481.1,359.4 478.5,361.5 476.1,363.9 473.3,365.5 470.5,367.0 467.3,367.8 464.4,369.0 461.4,370.0 459.0,372.2 456.4,374.1 453.5,375.2 450.5,376.0 447.5,376.9 444.5,377.7 441.9,379.4 439.1,380.6 436.6,382.2 433.8,383.5 431.1,384.7 427.8,384.9 424.8,385.7 422.2,387.3 420.2,389.8 418.0,391.9 415.6,393.8 412.7,394.9 410.2,396.5 407.7,398.2 405.2,399.9 402.6,401.5 400.8,404.2 398.5,406.1 396.2,408.1 393.4,409.3 390.9,410.7 388.7,412.9 386.8,415.4 384.9,417.9 382.7,419.9 380.1,421.2 377.1,422.0 374.2,422.8 371.6,424.0 369.5,426.1 367.4,428.3 365.3,430.6 362.8,432.6 L362.8,432.6 365.4,432.5 367.5,431.1 369.6,429.5 371.9,428.4 374.6,427.9 377.5,427.8 380.3,427.4 383.0,426.9 385.3,425.6 387.1,423.3 389.6,422.1 392.2,421.4 395.1,421.1 397.7,420.3 400.1,418.8 402.3,417.1 404.7,415.7 407.3,414.8 410.2,414.4 413.2,414.0 415.8,413.0 418.8,412.6 421.1,410.8 423.9,409.8 426.6,408.5 429.3,407.5 432.3,406.9 435.2,406.2 437.7,404.5 440.5,403.3 442.9,401.5 445.7,400.4 448.7,399.8 451.8,399.3 454.8,398.7 457.7,397.5 460.0,395.1 462.6,393.4 465.4,392.0 468.5,391.2 471.5,390.2 474.5,389.3 477.1,387.1 479.7,385.1 482.5,383.5 485.5,382.3 488.9,382.0 492.3,381.9 495.3,380.7 498.3,379.5 501.2,378.0 504.1,376.2 507.2,375.4 510.5,374.8 513.7,374.2 516.9,373.4 519.8,371.7 522.7,370.2 525.6,368.7 528.4,366.9 531.9,366.6 535.1,365.9 538.4,365.4 541.7,364.8 544.4,362.8 547.0,360.3 550.1,359.4 553.1,358.1 556.3,357.3 559.2,355.9 562.0,354.3 564.6,352.4 567.5,351.1 570.2,349.2 573.5,348.5 576.7,347.7 579.9,346.7 582.3,344.4 585.0,342.3 587.7,340.5 590.9,339.7 594.3,339.2 597.8,339.0 600.7,337.6 603.5,336.1 606.3,334.3 609.2,333.0 612.2,331.8 615.4,331.2 618.5,330.1 621.5,329.1 624.1,326.9 626.8,325.1 629.1,322.5 631.8,320.9 634.8,319.9 637.9,319.2 640.8,317.9 643.7,317.1 646.1,314.9 648.9,313.9 651.8,313.1 654.7,312.5 657.9,312.6 660.9,312.0 663.6,310.9 666.2,309.3 668.8,307.5 671.7,306.8 674.8,306.4 677.7,305.6 680.5,304.6 683.0,302.7 685.7,301.6 688.4,300.1 691.0,298.8 693.9,298.2 696.9,298.3 699.6,297.8 702.2,296.7 704.4,294.4 707.0,293.6 709.6,293.7 712.2,294.2 714.7,294.4 717.1,294.8 719.3,293.8 721.7,293.9 724.0,293.0 726.4,293.1 728.7,294.2 730.9,295.3 733.3,295.1 735.5,295.7 737.8,295.6 739.8,296.1 741.5,296.9 743.0,297.6 744.2,298.4 745.3,299.0 746.4,299.3 747.4,299.7 748.2,300.2 749.1,300.7 750.0,301.2"/>
<path d="M750.0,304.3 749.0,304.2 748.1,304.1 747.2,303.9 746.2,304.0 745.2,304.2 744.0,304.7 742.7,305.0 741.1,305.1 739.3,304.5 737.3,304.3 735.2,304.0 732.9,304.0 730.6,304.2 728.3,304.2 725.9,303.3 723.4,302.5 721.2,303.4 719.0,304.4 717.0,306.0 714.9,307.2 712.4,307.3 709.9,307.4 707.5,308.2 704.9,308.4 702.6,309.9 700.1,311.1 697.4,311.9 694.9,313.1 692.1,314.1 689.3,314.8 686.4,315.6 683.7,316.7 681.2,318.4 678.8,320.4 676.0,321.5 672.9,321.8 669.8,322.1 667.0,323.3 664.5,325.0 662.1,327.1 659.5,328.5 657.0,330.0 654.3,331.3 651.8,332.7 649.0,333.9 646.7,335.9 644.6,338.4 641.7,339.5 638.7,340.4 635.3,340.7 632.1,341.4 629.3,342.9 626.5,344.4 624.2,346.9 622.0,349.7 619.1,351.2 616.1,352.3 612.7,352.8 609.5,353.4 606.8,355.3 603.8,356.5 600.8,357.6 597.9,359.0 594.6,359.7 591.7,361.2 589.3,363.6 586.5,365.2 584.4,368.2 582.0,370.7 579.3,372.4 576.5,374.0 573.1,374.6 569.6,374.9 566.9,376.7 564.1,378.4 561.1,379.6 557.7,380.0 554.2,380.1 550.7,380.0 547.8,381.4 545.0,383.4 542.2,385.1 539.2,386.5 536.1,387.6 532.6,387.5 529.5,388.5 526.3,389.3 523.2,390.2 520.3,391.8 517.7,394.2 514.7,395.4 511.5,396.1 508.3,396.9 505.4,398.5 502.7,400.6 499.8,402.2 496.7,402.9 493.4,403.4 490.1,403.7 486.9,404.3 483.8,405.3 481.1,407.1 478.5,409.1 475.5,410.3 472.6,411.3 469.7,412.5 466.3,412.3 463.4,413.2 460.6,414.7 457.9,416.1 455.5,418.4 452.4,418.7 449.2,418.7 446.3,419.3 443.2,419.3 440.2,419.9 437.5,421.1 434.7,421.9 431.9,423.0 429.1,424.1 426.1,424.6 423.6,426.4 421.3,428.8 418.9,430.9 416.2,432.1 413.5,433.2 410.2,432.7 407.5,433.8 404.8,434.7 402.3,436.3 399.8,437.9 397.6,440.2 394.9,441.2 392.3,442.6 389.5,442.9 386.8,443.8 384.3,445.3 382.0,447.2 379.5,448.9 376.9,450.2 374.4,452.0 L374.4,452.0 377.1,452.6 379.8,452.5 382.4,451.9 385.0,451.4 387.7,451.1 390.6,451.5 393.6,452.1 396.3,451.6 399.1,451.4 401.7,450.2 404.4,449.6 407.2,449.5 410.1,449.5 413.0,449.5 416.1,450.2 418.9,449.5 421.8,449.1 424.6,448.3 427.4,447.7 430.6,448.7 433.7,449.2 436.7,449.0 439.5,448.0 442.2,446.4 445.0,445.4 448.0,445.3 451.2,445.6 454.2,445.5 457.2,445.0 460.0,443.9 462.8,442.3 465.5,440.3 468.3,438.9 471.3,438.5 474.5,438.4 477.5,437.6 480.4,436.3 483.2,434.7 486.5,434.7 489.7,434.2 492.9,433.6 496.3,434.0 499.4,432.9 502.2,431.2 505.2,429.9 507.8,427.4 510.9,426.5 514.2,426.4 517.3,425.3 520.6,424.8 523.7,423.8 526.7,422.7 530.0,422.1 532.9,420.6 536.3,420.3 539.6,420.0 542.8,419.1 545.4,416.9 547.9,414.3 550.6,412.2 553.8,411.5 557.0,410.9 560.3,410.3 563.3,409.1 566.1,407.3 569.0,405.9 571.8,404.3 575.1,403.6 577.9,402.0 581.2,401.4 584.0,399.9 587.1,398.8 589.1,395.6 591.6,393.6 594.4,391.9 597.2,390.3 599.8,388.3 602.5,386.5 604.5,383.5 607.2,381.7 609.6,379.4 612.6,378.1 616.2,378.0 619.4,377.3 622.4,376.0 625.1,374.3 628.0,372.9 630.7,371.3 633.6,369.8 636.4,368.5 639.5,367.4 642.5,366.4 645.1,364.6 647.1,362.0 649.6,360.3 652.2,358.8 655.3,358.0 657.8,356.5 660.2,354.7 662.5,352.8 664.4,350.2 666.8,348.5 669.7,347.4 672.3,346.0 675.1,344.8 677.5,342.8 679.5,340.4 682.0,338.7 684.3,336.7 687.1,335.7 690.6,335.8 693.6,335.2 696.1,333.7 698.3,331.8 700.1,329.1 702.2,327.2 704.4,325.7 706.9,324.7 709.2,323.6 711.7,323.0 713.8,321.7 716.0,320.5 718.0,319.2 720.7,319.3 723.0,318.6 725.6,318.9 728.0,318.6 730.2,317.7 732.5,317.1 734.7,316.3 736.8,315.5 739.0,315.3 740.9,315.0 742.6,314.3 743.8,313.2 744.6,311.9 745.8,311.3 746.9,310.7 748.0,310.1 749.0,309.4 750.0,308.6"/>
<path d="M750.0,310.9 749.0,312.1 748.1,313.4 747.1,314.5 746.0,315.5 744.6,316.4 743.6,317.8 742.2,318.9 740.7,320.1 738.9,321.2 736.8,322.0 734.3,322.2 732.0,322.9 729.9,324.3 727.9,326.0 726.1,328.0 723.9,328.8 721.4,329.0 719.1,329.9 716.6,330.5 714.6,332.0 712.9,333.9 710.8,335.4 708.3,336.5 705.8,337.6 703.1,338.5 700.7,340.0 697.9,340.9 696.0,343.3 693.9,345.4 691.6,347.2 688.9,348.6 685.9,349.4 683.2,350.9 681.1,353.2 679.0,355.5 676.2,356.8 673.7,358.5 670.9,359.6 667.6,360.1 664.8,361.3 662.5,363.3 660.5,365.8 658.7,368.4 656.6,370.6 653.8,371.9 651.3,373.5 648.6,375.0 646.3,377.0 644.0,379.2 641.8,381.6 638.9,382.9 636.2,384.6 633.4,386.1 630.7,387.8 628.3,390.1 625.8,392.2 623.2,394.1 620.7,396.2 617.4,396.9 614.1,397.6 611.0,398.7 607.9,399.7 605.4,401.8 603.1,404.3 599.8,405.0 596.8,406.2 593.8,407.6 591.1,409.4 588.8,411.8 586.4,414.0 583.5,415.5 580.9,417.5 578.0,418.8 574.6,419.3 571.5,420.4 569.1,422.8 566.3,424.4 563.7,426.5 560.5,427.4 557.1,427.5 554.2,429.0 550.8,429.4 548.0,431.1 545.1,432.6 542.4,434.7 539.2,435.4 536.2,436.6 532.6,436.2 529.6,437.4 526.3,437.7 523.5,439.8 520.5,441.0 517.5,442.3 514.1,442.2 510.8,442.3 507.8,443.5 504.8,444.8 501.7,445.8 498.7,446.8 495.6,447.8 492.5,448.3 489.4,449.0 486.1,449.1 483.1,450.1 480.5,452.4 477.5,453.6 474.3,453.6 471.2,453.7 468.0,453.4 464.9,453.6 462.0,454.4 459.1,455.6 456.3,456.9 453.4,457.7 450.2,456.8 447.2,457.2 444.4,458.1 441.5,459.0 438.6,460.2 435.7,461.1 432.8,461.8 429.9,462.6 426.9,462.5 424.1,463.3 421.3,464.7 418.5,465.4 415.7,466.2 412.7,466.3 409.9,467.1 406.9,466.6 404.1,466.5 401.3,467.4 398.6,469.2 L398.6,469.2 401.5,469.1 404.5,469.3 407.5,470.1 410.5,471.1 413.4,471.1 416.4,471.2 419.3,470.3 422.3,470.4 425.2,470.4 428.2,470.5 431.3,470.7 434.3,470.4 437.3,470.1 440.2,469.4 443.1,468.1 446.2,468.5 449.3,468.7 452.4,468.7 455.4,468.6 458.4,467.6 461.4,466.8 464.4,466.5 467.4,466.3 470.6,466.7 474.0,468.3 477.1,468.2 480.1,467.0 483.0,465.6 486.0,464.5 488.9,462.9 492.3,463.5 495.2,461.9 498.2,460.8 501.1,459.4 504.0,457.9 507.1,456.9 510.3,456.6 513.7,456.8 517.0,456.3 520.1,455.4 523.1,454.4 526.1,453.1 529.1,451.9 532.4,451.6 535.6,450.9 539.0,450.9 542.0,449.6 545.0,448.2 547.6,446.0 550.4,444.2 553.5,443.3 556.7,442.4 559.9,441.7 563.0,440.9 565.7,438.8 568.5,437.2 571.4,435.9 574.1,434.2 577.5,433.8 580.5,432.5 583.1,430.6 585.8,428.9 587.9,426.1 590.4,424.0 593.8,423.4 596.3,421.3 599.2,419.9 602.3,418.7 604.7,416.5 607.2,414.4 610.0,412.7 612.9,411.3 616.2,410.6 619.3,409.6 621.8,407.5 624.2,405.2 627.0,403.8 629.7,401.9 632.4,400.3 635.7,399.5 638.6,398.1 641.0,396.0 643.2,393.6 645.0,390.6 647.6,389.0 650.8,388.0 653.5,386.5 655.6,384.3 658.0,382.4 660.2,380.3 662.2,377.9 664.2,375.6 666.5,373.6 669.3,372.3 672.6,371.7 674.9,369.7 676.9,367.2 678.9,364.8 681.0,362.5 683.9,361.3 686.8,360.1 689.7,359.1 692.4,357.6 694.2,355.0 696.4,353.0 698.7,351.1 700.7,349.0 703.4,347.8 705.9,346.5 708.2,345.0 710.1,343.0 711.6,340.7 713.6,338.9 716.2,338.0 719.0,337.5 721.0,335.9 722.6,333.8 724.6,332.1 726.6,330.0 728.9,328.9 731.5,328.3 733.7,327.1 736.2,326.7 738.3,325.6 740.0,324.2 741.7,323.0 743.0,321.6 744.4,320.3 745.9,319.1 746.8,317.5 747.9,316.0 748.9,314.5 750.0,313.0"/>
</g>
</g>
<path d="M330.0,422.0 332.3,419.6 334.6,417.2 336.9,414.9 339.2,412.5 341.4,410.0 343.6,407.5 345.7,405.0 347.9,402.4 349.9,399.8 351.9,397.2 353.9,394.6 355.9,391.9 357.8,389.2 359.8,386.5 361.7,383.8 363.6,381.2 365.6,378.5 367.5,375.8 369.4,373.1 371.4,370.4 373.3,367.7 375.3,365.1 377.3,362.4 379.3,359.8 381.3,357.2 383.4,354.6 385.4,352.0 387.5,349.4 389.5,346.8 391.6,344.2 393.7,341.6 395.8,339.0 397.9,336.5 400.0,333.9 402.2,331.4 404.4,329.0 406.6,326.5 408.9,324.1 411.2,321.7 413.6,319.4 415.9,317.1 418.3,314.8 420.7,312.6 423.2,310.3 425.6,308.1 428.1,305.8 430.6,303.6 433.1,301.5 435.6,299.3 438.1,297.2 440.7,295.1 443.3,293.0 445.9,291.0 448.5,289.0 451.2,287.0 453.9,285.1 456.6,283.2 459.4,281.4 462.2,279.7 465.0,278.0 467.9,276.3 470.8,274.8 473.8,273.2 476.7,271.8 479.7,270.3 482.7,268.9 485.7,267.6 488.8,266.2 491.8,264.9 494.8,263.6 497.9,262.3 501.0,261.1 504.0,259.8 507.1,258.6 510.2,257.3 513.3,256.1 516.4,254.9 519.5,253.8 522.6,252.8 525.8,251.8 529.0,250.9 532.2,250.0 535.4,249.2 538.5,248.3 541.7,247.3 544.9,246.4 548.0,245.3 551.2,244.2 554.3,243.1 557.4,242.0 560.5,240.9 563.6,239.7 566.7,238.6 569.8,237.5 573.0,236.4 576.1,235.3 579.2,234.2 582.4,233.2 585.6,232.3 588.7,231.3 591.9,230.4 595.1,229.5 598.3,228.7 601.5,227.8 604.7,227.0 608.0,226.2 611.2,225.5 614.4,224.7 617.6,224.0 620.9,223.3 624.1,222.8 627.4,222.3 630.7,222.0 634.0,221.8 637.3,221.7 640.6,221.6 644.0,221.6 647.3,221.7 650.6,221.7 653.9,221.8 657.2,221.9 660.5,222.0 663.8,222.1 667.1,222.1 670.5,222.1 673.8,222.2 677.1,222.2 680.4,222.3 683.7,222.5 687.0,222.8 690.3,223.2 693.6,223.7 696.8,224.4 700.0,225.3 703.1,226.3 706.3,227.4 709.3,228.7 712.3,230.1 715.2,231.7 718.1,233.4 720.8,235.2 723.5,237.1 726.1,239.2 728.6,241.4 730.9,243.7 733.2,246.1 735.4,248.6 737.5,251.2 739.4,253.9 741.2,256.7 742.8,259.6 744.1,262.6 745.3,265.7 746.2,268.9 747.1,272.1 747.8,275.3 748.5,278.5 749.2,281.8 750.0,285.0 L750.0,322.0 748.8,325.0 747.8,328.0 746.7,331.1 745.5,334.1 744.2,337.0 742.9,340.0 741.4,342.8 739.6,345.5 737.6,348.0 735.4,350.4 733.0,352.6 731.5,355.7 727.1,355.6 726.8,360.1 723.0,360.7 722.5,364.6 718.6,365.6 718.3,369.4 714.7,370.8 716.3,375.7 710.8,376.0 711.7,380.4 707.8,381.7 707.7,385.5 704.0,386.8 704.0,391.0 700.0,391.8 701.2,397.0 695.9,396.7 696.5,401.6 691.5,401.4 691.2,405.5 686.7,405.8 687.0,410.5 682.8,410.9 682.2,414.8 678.7,415.9 678.7,420.4 674.2,420.5 673.4,424.2 670.0,425.4 669.5,429.2 665.5,430.1 666.7,435.3 661.7,435.4 661.4,439.3 657.3,440.1 657.9,444.9 653.1,444.9 652.1,448.4 648.6,449.4 647.5,453.2 642.8,452.5 642.5,457.3 638.4,457.2 637.4,461.2 633.1,460.9 631.9,464.8 627.4,464.0 627.1,469.1 622.1,467.7 621.6,472.5 617.0,471.6 617.0,477.2 612.1,475.8 610.5,479.2 606.3,478.7 606.0,484.1 600.9,482.3 600.9,488.0 595.8,486.3 594.7,490.2 590.8,490.4 589.7,494.3 585.7,494.2 584.2,498.0 580.0,497.1 578.9,502.1 574.5,500.2 572.3,503.3 568.6,502.9 566.9,507.4 562.4,504.6 560.4,508.5 556.3,506.6 554.3,510.7 550.4,509.2 548.3,513.3 544.3,511.3 542.0,514.8 538.2,513.1 536.1,517.8 531.9,514.6 529.5,518.2 525.6,515.8 523.0,519.2 519.3,517.0 516.6,520.0 513.1,518.9 510.5,522.8 506.7,519.6 503.8,522.3 500.3,520.2 497.4,523.9 494.0,520.8 490.9,524.1 487.6,520.5 484.3,525.1 481.2,520.8 477.8,524.9 474.8,520.8 471.3,523.6 468.4,519.5 464.8,523.9 461.9,519.8 458.4,522.1 455.6,519.0 452.0,521.5 449.2,517.6 445.6,521.0 442.7,517.7 439.1,520.9 436.4,516.0 432.7,519.8 430.0,515.5 426.4,518.0 423.6,515.2 419.9,518.2 417.3,513.4 413.4,517.2 411.0,512.2 407.3,514.7 404.5,512.1 401.0,513.4 398.3,510.5 394.5,512.8 392.0,509.2 388.0,511.9 385.9,507.0 381.7,510.7 379.5,505.9 375.9,507.2 373.2,504.6 369.4,506.1 367.1,502.8 363.3,503.7 360.8,501.1 357.9,499.8 355.1,498.1 352.5,496.3 350.0,494.2 347.6,492.1 345.1,490.1 342.5,488.1 340.0,486.2 337.5,484.1 335.0,482.1 332.5,480.0 330.0,478.0 Z" fill="none" stroke="#1d1a16" stroke-width="2"/>
<g fill="url(#gnuc)" stroke="#221c26" stroke-width="1.8">
<ellipse cx="735" cy="389" rx="17" ry="10" transform="rotate(-35 735 389)"/>
<ellipse cx="441.6" cy="341.6" rx="21" ry="12" transform="rotate(-15 441.6 341.6)"/>
<ellipse cx="475.8" cy="292.8" rx="19" ry="10" transform="rotate(-15 475.8 292.8)"/>
<ellipse cx="541.7" cy="329.4" rx="22" ry="12" transform="rotate(-10 541.7 329.4)"/>
<ellipse cx="575.9" cy="356.3" rx="22" ry="12" transform="rotate(-5 575.9 356.3)"/>
<ellipse cx="519.7" cy="397.8" rx="18" ry="13" transform="rotate(-15 519.7 397.8)"/>
<ellipse cx="614.9" cy="407.5" rx="17" ry="14" transform="rotate(-30 614.9 407.5)"/>
<ellipse cx="502.3" cy="472" rx="24.6" ry="15" transform="rotate(-5 502.3 472)"/>
<ellipse cx="562" cy="480.7" rx="24" ry="11.5" transform="rotate(-25 562 480.7)"/>
<ellipse cx="662.8" cy="282.5" rx="27.5" ry="9.5" transform="rotate(0 662.8 282.5)"/>
</g>
<path d="M650,240 C655,228 675,223 700,226 C716,229 728,245 738,270 L700,265 C680,262 662,263 647,264 C645,255 646,247 650,240 Z" fill="#a68ec2" stroke="#1d1a1e" stroke-width="1.8"/>
<ellipse cx="680" cy="239.5" rx="9" ry="5.5" fill="#c2b3d8" stroke="#3a3040" stroke-width="1.2"/>
<path d="M678,345 C684,330 700,326 718,327 C732,328 742,336 742,346 C740,354 730,357 712,357 C698,357 686,356 678,345 Z" fill="#a68ec2" stroke="#1d1a1e" stroke-width="1.8"/>
<ellipse cx="703" cy="342" rx="8" ry="5" fill="#c2b3d8" stroke="#3a3040" stroke-width="1.2"/>
<path d="M254,430 L262,424 L320,418 L326,426 L331,436 L333,452 L336,458 L333,470 L323,476 L318,481 L258,481 L252,470 Z" fill="#2a1c0a"/>
<g fill="none"><path d="M254,433 L266,432" stroke="#1e1608" stroke-width="7.5" stroke-linecap="round"/><path d="M254,433 L266,432" stroke="#efc43e" stroke-width="4.3" stroke-linecap="round"/><path d="M253,438.5 L268,438" stroke="#1e1608" stroke-width="7.5" stroke-linecap="round"/><path d="M253,438.5 L268,438" stroke="#f0c844" stroke-width="4.3" stroke-linecap="round"/><path d="M253,444 L268,444" stroke="#1e1608" stroke-width="7.5" stroke-linecap="round"/><path d="M253,444 L268,444" stroke="#f1cc4c" stroke-width="4.3" stroke-linecap="round"/><path d="M253,449.5 L268,449.5" stroke="#1e1608" stroke-width="7.5" stroke-linecap="round"/><path d="M253,449.5 L268,449.5" stroke="#f2d158" stroke-width="4.3" stroke-linecap="round"/><path d="M253,455 L268,455" stroke="#1e1608" stroke-width="7.5" stroke-linecap="round"/><path d="M253,455 L268,455" stroke="#f3d764" stroke-width="4.3" stroke-linecap="round"/><path d="M253,460.5 L268,460.5" stroke="#1e1608" stroke-width="7.5" stroke-linecap="round"/><path d="M253,460.5 L268,460.5" stroke="#f5df80" stroke-width="4.3" stroke-linecap="round"/><path d="M254,466 L268,466" stroke="#1e1608" stroke-width="7.5" stroke-linecap="round"/><path d="M254,466 L268,466" stroke="#f6e391" stroke-width="4.3" stroke-linecap="round"/><path d="M255,471.5 L268,471.5" stroke="#1e1608" stroke-width="7.5" stroke-linecap="round"/><path d="M255,471.5 L268,471.5" stroke="#f6e69c" stroke-width="4.3" stroke-linecap="round"/><path d="M257,477 L268,477" stroke="#1e1608" stroke-width="7.5" stroke-linecap="round"/><path d="M257,477 L268,477" stroke="#f7e9a6" stroke-width="4.3" stroke-linecap="round"/><path d="M259,430 L321,422" stroke="#1e1608" stroke-width="7.5" stroke-linecap="round"/><path d="M259,430 L321,422" stroke="#efc43e" stroke-width="4.3" stroke-linecap="round"/><path d="M265,433 L324,429" stroke="#1e1608" stroke-width="7.5" stroke-linecap="round"/><path d="M265,433 L324,429" stroke="#f0c844" stroke-width="4.3" stroke-linecap="round"/><path d="M275,441 L328,434" stroke="#1e1608" stroke-width="7.5" stroke-linecap="round"/><path d="M275,441 L328,434" stroke="#f1cc4c" stroke-width="4.3" stroke-linecap="round"/><path d="M280,447 L329,442" stroke="#1e1608" stroke-width="7.5" stroke-linecap="round"/><path d="M280,447 L329,442" stroke="#f2d158" stroke-width="4.3" stroke-linecap="round"/><path d="M280,452 L330,449" stroke="#1e1608" stroke-width="7.5" stroke-linecap="round"/><path d="M280,452 L330,449" stroke="#f3d764" stroke-width="4.3" stroke-linecap="round"/><path d="M280,458.5 L334,457.5" stroke="#1e1608" stroke-width="7.5" stroke-linecap="round"/><path d="M280,458.5 L334,457.5" stroke="#f5df80" stroke-width="4.3" stroke-linecap="round"/><path d="M278,466 L331,468" stroke="#1e1608" stroke-width="7.5" stroke-linecap="round"/><path d="M278,466 L331,468" stroke="#f6e391" stroke-width="4.3" stroke-linecap="round"/><path d="M272,471.5 L321,471.5" stroke="#1e1608" stroke-width="7.5" stroke-linecap="round"/><path d="M272,471.5 L321,471.5" stroke="#f6e69c" stroke-width="4.3" stroke-linecap="round"/><path d="M269,477 L319,477" stroke="#1e1608" stroke-width="7.5" stroke-linecap="round"/><path d="M269,477 L319,477" stroke="#f7e9a6" stroke-width="4.3" stroke-linecap="round"/></g>
<g fill="#f0cf5a" stroke="#1e1608" stroke-width="1.2"><circle cx="275" cy="437.0" r="2.1"/><circle cx="276" cy="441.2" r="2.1"/><circle cx="275" cy="445.4" r="2.1"/><circle cx="276" cy="449.6" r="2.1"/><circle cx="275" cy="453.8" r="2.1"/><circle cx="276" cy="458.0" r="2.1"/><circle cx="275" cy="462.2" r="2.1"/><circle cx="276" cy="466.4" r="2.1"/><circle cx="275" cy="470.6" r="2.1"/></g>
<path d="M722,248 C740,258 765,278 790,300 C810,318 830,332 846,340 L820,352 L815,366 C800,357 785,350 770,348 C755,348 742,356 734,366 C738,352 745,340 747,325 C749,305 747,285 738,268 C734,260 728,253 722,248 Z" fill="#f4de7c" stroke="#1e1608" stroke-width="2"/>
<g fill="none" stroke-linecap="round" stroke-linejoin="round">
<path d="M689,363 C705,356 720,352 734,352 C760,352 790,355 816,363" stroke="#1e1608" stroke-width="10.5"/>
<path d="M689,363 C705,356 720,352 734,352 C760,352 790,355 816,363" stroke="#f7e592" stroke-width="7.5"/>
<path d="M734,364 C742,352 752,346 765,345 C785,346 800,354 816,365" stroke="#1e1608" stroke-width="10.5"/>
<path d="M734,364 C742,352 752,346 765,345 C785,346 800,354 816,365" stroke="#f5df7e" stroke-width="7.5"/>
<path d="M747,333 C770,338 795,348 818,359" stroke="#1e1608" stroke-width="10.5"/>
<path d="M747,333 C770,338 795,348 818,359" stroke="#f6e38c" stroke-width="7.5"/>
<path d="M747,324 C772,330 797,342 820,354" stroke="#1e1608" stroke-width="10.5"/>
<path d="M747,324 C772,330 797,342 820,354" stroke="#f4da70" stroke-width="7.5"/>
<path d="M747,314 C772,322 800,336 823,348" stroke="#1e1608" stroke-width="10.5"/>
<path d="M747,314 C772,322 800,336 823,348" stroke="#f7e69a" stroke-width="7.5"/>
<path d="M686,300 C705,301 725,302 744,303 C775,310 805,330 827,345" stroke="#1e1608" stroke-width="7.6"/>
<path d="M686,300 C705,301 725,302 744,303 C775,310 805,330 827,345" stroke="#f5e088" stroke-width="4.6"/>
<path d="M744,290 C770,304 800,326 830,341" stroke="#1e1608" stroke-width="10.5"/>
<path d="M744,290 C770,304 800,326 830,341" stroke="#f3d35c" stroke-width="7.5"/>
<path d="M689,263 C705,265 722,268 737,270 C765,284 800,316 834,340" stroke="#1e1608" stroke-width="7.6"/>
<path d="M689,263 C705,265 722,268 737,270 C765,284 800,316 834,340" stroke="#f2cf52" stroke-width="4.6"/>
<path d="M723,252 C750,268 790,300 841,338" stroke="#1e1608" stroke-width="10.5"/>
<path d="M723,252 C750,268 790,300 841,338" stroke="#f1cb48" stroke-width="7.5"/>
</g>
<g fill="none" stroke="#fbefb0" stroke-width="1.6" opacity="0.8"><path d="M747,333 C770,338 795,348 818,359" transform="translate(0,-1.2)"/><path d="M747,324 C772,330 797,342 820,354" transform="translate(0,-1.2)"/><path d="M747,314 C772,322 800,336 823,348" transform="translate(0,-1.2)"/></g>
<path d="M815.9,364 L822.2,351 L847.5,341.6 C858,350 870,362 878,377 C868,392 858,408 853,426 C846,404 832,382 815.9,364 Z" fill="url(#gcut)"/>
<path d="M853,426 C846,404 832,382 815.9,364 L822.2,351 L847.5,341.6 C854,346 860,351 865,356" fill="none" stroke="#1e1608" stroke-width="2"/>
<g stroke="#ffffff" stroke-width="8" stroke-linecap="butt"><line x1="280.5" y1="110" x2="288" y2="436"/><line x1="445" y1="57.5" x2="390.3" y2="485.6"/><line x1="445" y1="57.5" x2="546.6" y2="402.6"/><line x1="588.8" y1="107.4" x2="689" y2="344"/><line x1="699.7" y1="55" x2="694" y2="262"/><line x1="855" y1="200" x2="824" y2="331"/><line x1="110.7" y1="450.2" x2="243.75" y2="450.2"/></g>
<g stroke="#1b1b1b" stroke-width="3.6" stroke-linecap="butt"><line x1="280.5" y1="110" x2="288" y2="436"/><line x1="445" y1="57.5" x2="390.3" y2="485.6"/><line x1="445" y1="57.5" x2="546.6" y2="402.6"/><line x1="588.8" y1="107.4" x2="689" y2="344"/><line x1="699.7" y1="55" x2="694" y2="262"/><line x1="855" y1="200" x2="824" y2="331"/><line x1="110.7" y1="450.2" x2="243.75" y2="450.2"/></g>
<g clip-path="url(#cmic)">
<rect x="1000" y="130" width="390" height="430" fill="#aa92c6"/>
<g filter="url(#mb4)">
<path d="M1078,318 C1082,290 1090,255 1104,222 C1115,195 1122,175 1135,163 C1180,158 1260,158 1300,160 C1330,180 1345,210 1355,240 L1390,240 L1390,445 C1300,447 1200,446 1145,438 C1115,410 1095,370 1078,318 Z" fill="#d8d2e8"/>
<path d="M1350,138 L1390,138 L1390,250 L1368,250 C1362,210 1356,170 1350,138 Z" fill="#d6d0e6"/>
<path d="M1142,490 C1180,480 1260,480 1316,488 C1330,510 1330,540 1322,560 L1150,560 C1138,540 1134,512 1142,490 Z" fill="#dcd8eb"/>
</g>
<g filter="url(#mb8)" opacity="0.9">
<path d="M1150,350 C1200,345 1245,360 1275,392 C1245,420 1200,428 1165,412 Z" fill="#ae9bc9"/>
<path d="M1080,318 C1120,300 1170,295 1230,300 C1200,320 1150,330 1080,330 Z" fill="#b8a6d0"/>
<path d="M1290,250 C1318,262 1335,295 1342,330 C1322,322 1300,300 1290,270 Z" fill="#c6b9da"/>
<path d="M1100,250 C1130,235 1170,225 1220,222 C1180,240 1140,255 1110,270 Z" fill="#c2b3d8"/>
</g>
<g filter="url(#mb4)" fill="none" stroke="#a48dc3" stroke-width="7" opacity="0.75"><path d="M1080,300 C1092,255 1120,215 1160,192 C1190,178 1215,170 1235,166"/><path d="M1080,306 C1110,275 1150,258 1200,250 C1250,246 1300,252 1345,268"/><path d="M1080,314 C1120,300 1170,294 1225,296"/><path d="M1080,326 C1130,332 1180,338 1235,336"/><path d="M1080,336 C1115,362 1160,380 1210,388 C1235,392 1255,392 1270,388"/><path d="M1080,346 C1100,390 1130,420 1180,434 C1220,442 1270,444 1320,442"/></g>
<g filter="url(#mb2)" fill="none" stroke="#9c86bf" stroke-width="1.6" opacity="0.7"><path d="M1080,300 C1092,255 1120,215 1160,192 C1190,178 1215,170 1235,166"/><path d="M1080,306 C1110,275 1150,258 1200,250 C1250,246 1300,252 1345,268"/><path d="M1080,314 C1120,300 1170,294 1225,296"/><path d="M1080,326 C1130,332 1180,338 1235,336"/><path d="M1080,336 C1115,362 1160,380 1210,388 C1235,392 1255,392 1270,388"/><path d="M1080,346 C1100,390 1130,420 1180,434 C1220,442 1270,444 1320,442"/></g>
<g filter="url(#mb2)" fill="none" stroke="#9d86bf" stroke-width="3" opacity="0.6"><path d="M1080,300 C1086,250 1100,205 1130,172 C1150,155 1180,148 1210,146"/><path d="M1088,300 C1094,255 1108,215 1135,185 C1155,166 1185,158 1215,156"/><path d="M1084,350 C1095,390 1115,425 1150,448 C1180,465 1220,470 1260,468"/><path d="M1092,350 C1104,385 1122,415 1155,436"/></g>
<g filter="url(#mb4)">
<path d="M1070,125 L1390,125 L1390,146 C1345,150 1300,152 1250,153 C1190,155 1150,160 1125,172 C1105,160 1085,140 1070,125 Z" fill="#9a82be"/>
<path d="M1296,150 C1325,158 1350,190 1362,225 C1372,255 1380,290 1390,325 L1390,348 C1376,322 1366,294 1354,264 C1342,230 1322,192 1296,170 Z" fill="#7a66a8"/>
<path d="M1125,452 C1180,442 1260,446 1330,452 C1360,456 1380,462 1390,466 L1390,488 C1340,480 1260,474 1180,480 C1150,484 1130,482 1120,472 Z" fill="#8f79b7"/>
<path d="M1326,492 C1348,482 1375,482 1390,482 L1390,560 L1322,560 C1332,530 1334,508 1326,492 Z" fill="#7a63a8"/>
<path d="M1090,440 C1110,460 1128,500 1136,560 L1095,560 Z" fill="#a68dc4"/>
</g>
<g filter="url(#mb2)"><path d="M1000,128 L1074,128 C1076,200 1076,270 1074,308 C1085,345 1095,390 1100,440 C1104,490 1106,530 1108,560 L1000,560 Z" fill="#c398c6"/></g>
<g filter="url(#mb2)"><g fill="none" stroke="#a7609f" stroke-width="1.8" opacity="0.65"><path d="M1008.4,128 C1014.4,250.0 1022.0,306.0 1075,311.0"/><path d="M1016.7,128 C1021.7,245.3 1027.3,304.8 1075,311.0"/><path d="M1024.2,128 C1028.4,240.6 1032.6,303.6 1075,311.0"/><path d="M1029.9,128 C1033.1,235.9 1037.9,302.5 1075,311.0"/><path d="M1040.4,128 C1042.6,231.2 1043.2,301.3 1075,311.0"/><path d="M1048.0,128 C1049.3,226.5 1048.5,300.1 1075,311.0"/><path d="M1054.5,128 C1054.8,221.8 1053.8,298.9 1075,311.0"/><path d="M1062.5,128 C1061.9,217.1 1059.1,297.8 1075,311.0"/><path d="M1068.7,128 C1067.1,212.4 1064.4,296.6 1075,311.0"/><path d="M1075,333 C1032.0,340.0 1029.3,385.0 1033.3,560"/><path d="M1075,333 C1036.8,341.1 1037.3,390.7 1041.8,560"/><path d="M1075,333 C1041.5,342.3 1043.8,396.4 1049.0,560"/><path d="M1075,333 C1046.3,343.4 1049.8,402.1 1055.5,560"/><path d="M1075,333 C1051.0,344.6 1054.4,407.9 1060.7,560"/><path d="M1075,333 C1055.8,345.7 1061.5,413.6 1068.4,560"/><path d="M1075,333 C1060.6,346.9 1070.3,419.3 1077.7,560"/><path d="M1075,333 C1065.3,348.0 1074.7,425.0 1082.7,560"/><path d="M1075,333 C1070.1,349.1 1081.9,430.7 1090.5,560"/><path d="M1075,333 C1074.9,350.3 1087.4,436.4 1096.5,560"/><path d="M1075,333 C1079.6,351.4 1095.3,442.1 1105.0,560"/></g><g fill="none" stroke="#dcb2da" stroke-width="1.5" opacity="0.55"><path d="M1012.6,128 C1018.1,247.6 1024.6,305.4 1075,311.0"/><path d="M1021.0,128 C1025.6,242.9 1029.9,304.2 1075,311.0"/><path d="M1028.7,128 C1032.3,238.2 1035.2,303.1 1075,311.0"/><path d="M1035.1,128 C1037.8,233.5 1040.5,301.9 1075,311.0"/><path d="M1043.4,128 C1045.2,228.8 1045.8,300.7 1075,311.0"/><path d="M1049.5,128 C1050.4,224.1 1051.1,299.5 1075,311.0"/><path d="M1057.7,128 C1057.6,219.4 1056.4,298.4 1075,311.0"/><path d="M1066.5,128 C1065.4,214.7 1061.7,297.2 1075,311.0"/><path d="M1073.2,128 C1071.2,210.0 1067.0,296.0 1075,311.0"/><path d="M1075,333 C1034.4,340.6 1034.5,387.9 1038.8,560"/><path d="M1075,333 C1039.1,341.7 1038.7,393.6 1043.6,560"/><path d="M1075,333 C1043.9,342.9 1045.1,399.3 1050.5,560"/><path d="M1075,333 C1048.7,344.0 1051.5,405.0 1057.5,560"/><path d="M1075,333 C1053.4,345.1 1060.3,410.7 1066.8,560"/><path d="M1075,333 C1058.2,346.3 1064.8,416.4 1071.9,560"/><path d="M1075,333 C1063.0,347.4 1073.2,422.1 1080.9,560"/><path d="M1075,333 C1067.7,348.6 1080.0,427.9 1088.2,560"/><path d="M1075,333 C1072.5,349.7 1085.6,433.6 1094.4,560"/><path d="M1075,333 C1077.2,350.9 1092.8,439.3 1102.3,560"/><path d="M1075,333 C1082.0,352.0 1099.4,445.0 1109.4,560"/></g></g>
<g filter="url(#mb4)"><ellipse cx="1042" cy="332" rx="16" ry="11" fill="#ece2ee" opacity="0.8"/></g>
<g filter="url(#mb2)"><ellipse cx="1077" cy="310" rx="8" ry="13" fill="#8c4a8e" opacity="0.75"/><ellipse cx="1078" cy="333" rx="13" ry="5" fill="#9a559b" opacity="0.7"/></g>
<g filter="url(#mb2)">
<ellipse cx="1242.5" cy="184.4" rx="30" ry="29" transform="rotate(0 1242.5 184.4)" fill="#d8d0e8" stroke="#8a76b0" stroke-width="2.2"/>
<ellipse cx="1253" cy="265.6" rx="26" ry="24" transform="rotate(0 1253 265.6)" fill="#b2a3cd" stroke="#7e6aab" stroke-width="2.2"/>
<ellipse cx="1272" cy="337.5" rx="40" ry="16" transform="rotate(2 1272 337.5)" fill="#7a66a8"/>
<ellipse cx="1312.5" cy="365.6" rx="28" ry="19" transform="rotate(10 1312.5 365.6)" fill="#9f8dc4" stroke="#7e6aab" stroke-width="2.2"/>
<ellipse cx="1275" cy="397" rx="37" ry="25" transform="rotate(32 1275 397)" fill="#7c68aa"/>
<ellipse cx="1334" cy="431" rx="26" ry="17" transform="rotate(10 1334 431)" fill="#6a569c"/>
<ellipse cx="1181" cy="400" rx="30" ry="14" transform="rotate(15 1181 400)" fill="#9a88c0"/>
<ellipse cx="1165" cy="471" rx="38" ry="13" transform="rotate(-8 1165 471)" fill="#7561a6"/>
<ellipse cx="1237.5" cy="451" rx="38" ry="10" transform="rotate(3 1237.5 451)" fill="#7561a6"/>
<ellipse cx="1325" cy="469" rx="37" ry="11" transform="rotate(8 1325 469)" fill="#7561a6"/>
<ellipse cx="1228" cy="516" rx="30" ry="31" transform="rotate(0 1228 516)" fill="#d8d0e8" stroke="#8a76b0" stroke-width="2.2"/>
<ellipse cx="1044" cy="181" rx="6" ry="26" transform="rotate(-6 1044 181)" fill="#3f2c72"/>
<ellipse cx="1077" cy="196" rx="14" ry="20" transform="rotate(25 1077 196)" fill="#5d4992"/>
<ellipse cx="1069.5" cy="482" rx="10" ry="17" transform="rotate(0 1069.5 482)" fill="#8670b2" stroke="#3f2c72" stroke-width="2.2"/>
<ellipse cx="1097" cy="516" rx="11" ry="25" transform="rotate(25 1097 516)" fill="#7a65aa" stroke="#3f2c72" stroke-width="2.2"/>
<ellipse cx="1372" cy="169" rx="12" ry="22" transform="rotate(0 1372 169)" fill="#6a56a0"/>
<ellipse cx="1379" cy="208" rx="8" ry="16" transform="rotate(0 1379 208)" fill="#6a56a0"/>
<ellipse cx="1150" cy="300" rx="22" ry="10" transform="rotate(30 1150 300)" fill="#a996c8"/>
<ellipse cx="1200" cy="245" rx="28" ry="11" transform="rotate(15 1200 245)" fill="#b3a3d0"/>
<ellipse cx="1210" cy="440" rx="20" ry="10" transform="rotate(0 1210 440)" fill="#8a76b4"/>
<path d="M1224,229 C1240,219 1268,212 1294,213 C1313,216 1317,238 1301,245 C1280,248 1250,241 1224,233 Z" fill="#7763a6"/>
<path d="M1208,281 C1224,279 1244,286 1256,297 C1264,308 1254,317 1240,313 C1227,307 1214,294 1208,281 Z" fill="#8370ae"/>
</g>
<g filter="url(#mb4)" fill="#ebe8f4"><circle cx="1152" cy="374" r="13"/><circle cx="1245" cy="545" r="10"/><circle cx="1326" cy="262" r="8"/></g>
<rect x="1000" y="130" width="390" height="430" filter="url(#mottle)" opacity="0.35"/>
<rect x="1000" y="130" width="390" height="430" filter="url(#grain)" opacity="0.4"/>
</g>
<g font-family="Liberation Serif" font-weight="bold" font-size="36" fill="#231f20">
<text x="366" y="42.4" textLength="162" lengthAdjust="spacingAndGlyphs">Taste cells</text>
<text x="205" y="97.9" textLength="161" lengthAdjust="spacingAndGlyphs">Microvilli</text>
<text x="643" y="42.3" textLength="132.5" lengthAdjust="spacingAndGlyphs">Synapse</text>
<text x="514" y="98.2" textLength="149" lengthAdjust="spacingAndGlyphs">Basal cell</text>
<text x="819.5" y="108.3" textLength="158.5" lengthAdjust="spacingAndGlyphs">Gustatory</text>
<text x="819.5" y="147.5" textLength="125" lengthAdjust="spacingAndGlyphs">afferent</text>
<text x="819.5" y="185.8" textLength="89.5" lengthAdjust="spacingAndGlyphs">axons</text>
<text x="14.5" y="455.5" textLength="80" lengthAdjust="spacingAndGlyphs">Taste</text>
<text x="14.5" y="494.8" textLength="70.5" lengthAdjust="spacingAndGlyphs">pore</text>
</g>
</svg></body></html>
